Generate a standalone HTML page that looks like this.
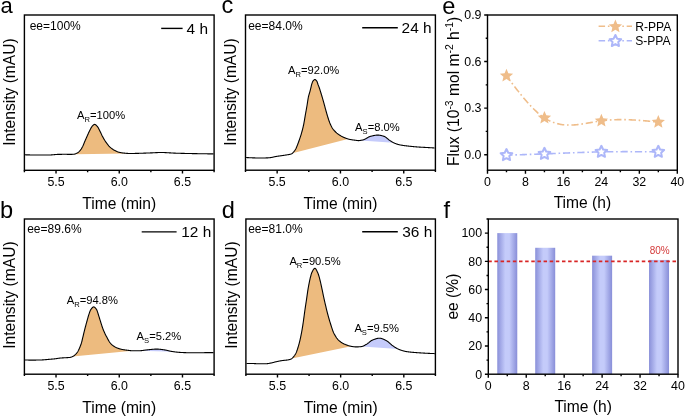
<!DOCTYPE html>
<html><head><meta charset="utf-8"><style>
html,body{margin:0;padding:0;background:#fff;width:685px;height:416px;overflow:hidden}
svg{display:block;will-change:transform}
text{font-family:"Liberation Sans", sans-serif}
</style></head><body>
<svg width="685" height="416" viewBox="0 0 685 416" font-family='"Liberation Sans", sans-serif'>
<rect width="685" height="416" fill="#fff"/>
<text x="56.02" y="185.9" font-size="12.4" text-anchor="middle" fill="#000" >5.5</text>
<text x="119.25" y="185.9" font-size="12.4" text-anchor="middle" fill="#000" >6.0</text>
<text x="182.48" y="185.9" font-size="12.4" text-anchor="middle" fill="#000" >6.5</text>
<path d="M24.4 170.3 V172.2 M56.02 170.3 V173.5 M87.63 170.3 V172.2 M119.25 170.3 V173.5 M150.87 170.3 V172.2 M182.48 170.3 V173.5 M214.1 170.3 V172.2" stroke="#000" stroke-width="1.4" fill="none"/>
<text x="119.25" y="209.1" font-size="15.6" text-anchor="middle" fill="#000" >Time (min)</text>
<text transform="translate(15.3 92.05) rotate(-90)" font-size="15.6" text-anchor="middle" fill="#000">Intensity (mAU)</text>
<path d="M74.25 154.17 L74.5 154.13 L74.75 154.07 L75 154 L75.25 153.91 L75.5 153.82 L75.75 153.72 L76 153.61 L76.25 153.5 L76.5 153.37 L76.75 153.25 L77 153.12 L77.25 152.98 L77.5 152.84 L77.75 152.69 L78 152.52 L78.25 152.33 L78.5 152.12 L78.75 151.9 L79 151.66 L79.25 151.42 L79.5 151.16 L79.75 150.89 L80 150.61 L80.25 150.33 L80.5 150.01 L80.75 149.68 L81 149.32 L81.25 148.95 L81.5 148.55 L81.75 148.14 L82 147.71 L82.25 147.26 L82.5 146.8 L82.75 146.31 L83 145.77 L83.25 145.2 L83.5 144.59 L83.75 143.98 L84 143.35 L84.25 142.72 L84.5 142.11 L84.75 141.52 L85 140.94 L85.25 140.37 L85.5 139.81 L85.75 139.25 L86 138.69 L86.25 138.13 L86.5 137.57 L86.75 137.01 L87 136.45 L87.25 135.89 L87.5 135.32 L87.75 134.74 L88 134.17 L88.25 133.6 L88.5 133.04 L88.75 132.5 L89 131.97 L89.25 131.45 L89.5 130.94 L89.75 130.44 L90 129.96 L90.25 129.49 L90.5 129.03 L90.75 128.56 L91 128.09 L91.25 127.64 L91.5 127.21 L91.75 126.82 L92 126.48 L92.25 126.2 L92.5 125.93 L92.75 125.67 L93 125.42 L93.25 125.18 L93.5 124.96 L93.75 124.77 L94 124.61 L94.25 124.49 L94.5 124.42 L94.75 124.4 L95 124.44 L95.25 124.53 L95.5 124.67 L95.75 124.84 L96 125.04 L96.25 125.27 L96.5 125.52 L96.75 125.78 L97 126.04 L97.25 126.3 L97.5 126.61 L97.75 126.97 L98 127.37 L98.25 127.81 L98.5 128.27 L98.75 128.74 L99 129.21 L99.25 129.68 L99.5 130.18 L99.75 130.7 L100 131.23 L100.25 131.76 L100.5 132.29 L100.75 132.81 L101 133.33 L101.25 133.86 L101.5 134.39 L101.75 134.91 L102 135.42 L102.25 135.93 L102.5 136.41 L102.75 136.88 L103 137.34 L103.25 137.79 L103.5 138.24 L103.75 138.67 L104 139.1 L104.25 139.52 L104.5 139.93 L104.75 140.33 L105 140.72 L105.25 141.11 L105.5 141.48 L105.75 141.85 L106 142.21 L106.25 142.56 L106.5 142.91 L106.75 143.25 L107 143.58 L107.25 143.91 L107.5 144.23 L107.75 144.55 L108 144.86 L108.25 145.18 L108.5 145.48 L108.75 145.78 L109 146.07 L109.25 146.34 L109.5 146.6 L109.75 146.85 L110 147.08 L110.25 147.3 L110.5 147.52 L110.75 147.73 L111 147.93 L111.25 148.13 L111.5 148.32 L111.75 148.51 L112 148.7 L112.25 148.88 L112.5 149.07 L112.75 149.25 L113 149.43 L113.25 149.6 L113.5 149.76 L113.75 149.92 L114 150.08 L114.25 150.22 L114.5 150.35 L114.75 150.48 L115 150.61 L115.25 150.74 L115.5 150.86 L115.75 150.99 L116 151.11 L116.25 151.23 L116.5 151.34 L116.75 151.45 L117 151.56 L117.25 151.66 L117.5 151.76 L117.75 151.86 L118 151.95 L118.25 152.03 L118.5 152.11 L118.75 152.18 L119 152.25 L119.25 152.31 L119.5 152.37 L119.75 152.43 L120 152.48 L120.25 152.53 L120.5 152.58 L120.75 152.63 L121 152.68 L121.25 152.72 L121.5 152.77 L121.75 152.81 L122 152.85 L122.25 152.89 L122.5 152.92 L122.75 152.96 L123 152.99 L123.25 153.02 L123.5 153.05 L123.75 153.07 L124 153.1 L124.25 153.12 L124.5 153.15 L124.75 153.17 L125 153.2 L125.25 153.22 L125.5 153.24 L125.75 153.27 L126 153.29 L126.25 153.31 L126.5 153.33 L126.75 153.35 L127 153.37 L127.25 153.39 L127.5 153.41 L127.75 153.42 L128 153.44 Z" fill="#EDBB7F" stroke="none"/>
<path d="M25 154.81 L25.25 154.82 L25.5 154.82 L25.75 154.83 L26 154.83 L26.25 154.84 L26.5 154.85 L26.75 154.85 L27 154.86 L27.25 154.87 L27.5 154.87 L27.75 154.88 L28 154.88 L28.25 154.89 L28.5 154.89 L28.75 154.9 L29 154.91 L29.25 154.91 L29.5 154.92 L29.75 154.92 L30 154.93 L30.25 154.93 L30.5 154.94 L30.75 154.94 L31 154.95 L31.25 154.95 L31.5 154.95 L31.75 154.96 L32 154.96 L32.25 154.97 L32.5 154.97 L32.75 154.97 L33 154.98 L33.25 154.98 L33.5 154.98 L33.75 154.99 L34 154.99 L34.25 154.99 L34.5 154.99 L34.75 154.99 L35 155 L35.25 155 L35.5 155 L35.75 155 L36 155 L36.25 155 L36.5 155 L36.75 155 L37 155 L37.25 155 L37.5 155 L37.75 155 L38 155 L38.25 155 L38.5 155 L38.75 155 L39 155 L39.25 155 L39.5 155 L39.75 155 L40 155 L40.25 155 L40.5 155 L40.75 155 L41 155 L41.25 155 L41.5 155 L41.75 155 L42 155 L42.25 155 L42.5 155 L42.75 155 L43 155 L43.25 155 L43.5 155 L43.75 155 L44 155 L44.25 155 L44.5 155 L44.75 155 L45 155 L45.25 155 L45.5 155 L45.75 155 L46 155 L46.25 155 L46.5 155 L46.75 155 L47 155 L47.25 155 L47.5 155 L47.75 155 L48 155 L48.25 155 L48.5 155 L48.75 155 L49 155 L49.25 155 L49.5 155 L49.75 154.99 L50 154.98 L50.25 154.97 L50.5 154.96 L50.75 154.95 L51 154.94 L51.25 154.92 L51.5 154.9 L51.75 154.88 L52 154.86 L52.25 154.84 L52.5 154.82 L52.75 154.8 L53 154.77 L53.25 154.75 L53.5 154.72 L53.75 154.7 L54 154.68 L54.25 154.65 L54.5 154.63 L54.75 154.6 L55 154.58 L55.25 154.56 L55.5 154.54 L55.75 154.52 L56 154.5 L56.25 154.48 L56.5 154.46 L56.75 154.45 L57 154.43 L57.25 154.42 L57.5 154.41 L57.75 154.4 L58 154.4 L58.25 154.39 L58.5 154.39 L58.75 154.38 L59 154.38 L59.25 154.37 L59.5 154.37 L59.75 154.36 L60 154.36 L60.25 154.35 L60.5 154.35 L60.75 154.34 L61 154.34 L61.25 154.34 L61.5 154.33 L61.75 154.33 L62 154.32 L62.25 154.32 L62.5 154.32 L62.75 154.32 L63 154.31 L63.25 154.31 L63.5 154.31 L63.75 154.31 L64 154.3 L64.25 154.3 L64.5 154.3 L64.75 154.3 L65 154.3 L65.25 154.3 L65.5 154.3 L65.75 154.3 L66 154.3 L66.25 154.31 L66.5 154.31 L66.75 154.32 L67 154.33 L67.25 154.34 L67.5 154.34 L67.75 154.35 L68 154.36 L68.25 154.37 L68.5 154.38 L68.75 154.38 L69 154.39 L69.25 154.39 L69.5 154.4 L69.75 154.4 L70 154.4 L70.25 154.4 L70.5 154.4 L70.75 154.39 L71 154.39 L71.25 154.38 L71.5 154.37 L71.75 154.36 L72 154.35 L72.25 154.33 L72.5 154.32 L72.75 154.3 L73 154.28 L73.25 154.26 L73.5 154.24 L73.75 154.22 L74 154.2 L74.25 154.17 L74.5 154.13 L74.75 154.07 L75 154 L75.25 153.91 L75.5 153.82 L75.75 153.72 L76 153.61 L76.25 153.5 L76.5 153.37 L76.75 153.25 L77 153.12 L77.25 152.98 L77.5 152.84 L77.75 152.69 L78 152.52 L78.25 152.33 L78.5 152.12 L78.75 151.9 L79 151.66 L79.25 151.42 L79.5 151.16 L79.75 150.89 L80 150.61 L80.25 150.33 L80.5 150.01 L80.75 149.68 L81 149.32 L81.25 148.95 L81.5 148.55 L81.75 148.14 L82 147.71 L82.25 147.26 L82.5 146.8 L82.75 146.31 L83 145.77 L83.25 145.2 L83.5 144.59 L83.75 143.98 L84 143.35 L84.25 142.72 L84.5 142.11 L84.75 141.52 L85 140.94 L85.25 140.37 L85.5 139.81 L85.75 139.25 L86 138.69 L86.25 138.13 L86.5 137.57 L86.75 137.01 L87 136.45 L87.25 135.89 L87.5 135.32 L87.75 134.74 L88 134.17 L88.25 133.6 L88.5 133.04 L88.75 132.5 L89 131.97 L89.25 131.45 L89.5 130.94 L89.75 130.44 L90 129.96 L90.25 129.49 L90.5 129.03 L90.75 128.56 L91 128.09 L91.25 127.64 L91.5 127.21 L91.75 126.82 L92 126.48 L92.25 126.2 L92.5 125.93 L92.75 125.67 L93 125.42 L93.25 125.18 L93.5 124.96 L93.75 124.77 L94 124.61 L94.25 124.49 L94.5 124.42 L94.75 124.4 L95 124.44 L95.25 124.53 L95.5 124.67 L95.75 124.84 L96 125.04 L96.25 125.27 L96.5 125.52 L96.75 125.78 L97 126.04 L97.25 126.3 L97.5 126.61 L97.75 126.97 L98 127.37 L98.25 127.81 L98.5 128.27 L98.75 128.74 L99 129.21 L99.25 129.68 L99.5 130.18 L99.75 130.7 L100 131.23 L100.25 131.76 L100.5 132.29 L100.75 132.81 L101 133.33 L101.25 133.86 L101.5 134.39 L101.75 134.91 L102 135.42 L102.25 135.93 L102.5 136.41 L102.75 136.88 L103 137.34 L103.25 137.79 L103.5 138.24 L103.75 138.67 L104 139.1 L104.25 139.52 L104.5 139.93 L104.75 140.33 L105 140.72 L105.25 141.11 L105.5 141.48 L105.75 141.85 L106 142.21 L106.25 142.56 L106.5 142.91 L106.75 143.25 L107 143.58 L107.25 143.91 L107.5 144.23 L107.75 144.55 L108 144.86 L108.25 145.18 L108.5 145.48 L108.75 145.78 L109 146.07 L109.25 146.34 L109.5 146.6 L109.75 146.85 L110 147.08 L110.25 147.3 L110.5 147.52 L110.75 147.73 L111 147.93 L111.25 148.13 L111.5 148.32 L111.75 148.51 L112 148.7 L112.25 148.88 L112.5 149.07 L112.75 149.25 L113 149.43 L113.25 149.6 L113.5 149.76 L113.75 149.92 L114 150.08 L114.25 150.22 L114.5 150.35 L114.75 150.48 L115 150.61 L115.25 150.74 L115.5 150.86 L115.75 150.99 L116 151.11 L116.25 151.23 L116.5 151.34 L116.75 151.45 L117 151.56 L117.25 151.66 L117.5 151.76 L117.75 151.86 L118 151.95 L118.25 152.03 L118.5 152.11 L118.75 152.18 L119 152.25 L119.25 152.31 L119.5 152.37 L119.75 152.43 L120 152.48 L120.25 152.53 L120.5 152.58 L120.75 152.63 L121 152.68 L121.25 152.72 L121.5 152.77 L121.75 152.81 L122 152.85 L122.25 152.89 L122.5 152.92 L122.75 152.96 L123 152.99 L123.25 153.02 L123.5 153.05 L123.75 153.07 L124 153.1 L124.25 153.12 L124.5 153.15 L124.75 153.17 L125 153.2 L125.25 153.22 L125.5 153.24 L125.75 153.27 L126 153.29 L126.25 153.31 L126.5 153.33 L126.75 153.35 L127 153.37 L127.25 153.39 L127.5 153.41 L127.75 153.42 L128 153.44 L128.25 153.45 L128.5 153.46 L128.75 153.48 L129 153.48 L129.25 153.49 L129.5 153.5 L129.75 153.5 L130 153.5 L130.25 153.5 L130.5 153.5 L130.75 153.5 L131 153.5 L131.25 153.49 L131.5 153.49 L131.75 153.49 L132 153.48 L132.25 153.48 L132.5 153.48 L132.75 153.47 L133 153.47 L133.25 153.46 L133.5 153.46 L133.75 153.45 L134 153.44 L134.25 153.44 L134.5 153.43 L134.75 153.43 L135 153.42 L135.25 153.42 L135.5 153.41 L135.75 153.41 L136 153.4 L136.25 153.39 L136.5 153.39 L136.75 153.38 L137 153.38 L137.25 153.37 L137.5 153.36 L137.75 153.36 L138 153.35 L138.25 153.34 L138.5 153.34 L138.75 153.33 L139 153.32 L139.25 153.32 L139.5 153.31 L139.75 153.3 L140 153.29 L140.25 153.29 L140.5 153.28 L140.75 153.27 L141 153.26 L141.25 153.25 L141.5 153.24 L141.75 153.24 L142 153.23 L142.25 153.22 L142.5 153.21 L142.75 153.2 L143 153.19 L143.25 153.18 L143.5 153.17 L143.75 153.17 L144 153.16 L144.25 153.15 L144.5 153.14 L144.75 153.13 L145 153.12 L145.25 153.11 L145.5 153.1 L145.75 153.09 L146 153.08 L146.25 153.07 L146.5 153.06 L146.75 153.05 L147 153.04 L147.25 153.03 L147.5 153.02 L147.75 153.01 L148 153 L148.25 153 L148.5 152.99 L148.75 152.98 L149 152.97 L149.25 152.96 L149.5 152.95 L149.75 152.94 L150 152.93 L150.25 152.92 L150.5 152.91 L150.75 152.9 L151 152.89 L151.25 152.88 L151.5 152.87 L151.75 152.86 L152 152.85 L152.25 152.84 L152.5 152.83 L152.75 152.82 L153 152.8 L153.25 152.79 L153.5 152.78 L153.75 152.76 L154 152.75 L154.25 152.74 L154.5 152.73 L154.75 152.71 L155 152.7 L155.25 152.69 L155.5 152.67 L155.75 152.66 L156 152.65 L156.25 152.64 L156.5 152.62 L156.75 152.61 L157 152.6 L157.25 152.59 L157.5 152.58 L157.75 152.57 L158 152.56 L158.25 152.55 L158.5 152.54 L158.75 152.54 L159 152.53 L159.25 152.52 L159.5 152.52 L159.75 152.51 L160 152.51 L160.25 152.5 L160.5 152.5 L160.75 152.5 L161 152.5 L161.25 152.5 L161.5 152.5 L161.75 152.5 L162 152.51 L162.25 152.51 L162.5 152.51 L162.75 152.52 L163 152.53 L163.25 152.53 L163.5 152.54 L163.75 152.55 L164 152.56 L164.25 152.56 L164.5 152.57 L164.75 152.58 L165 152.59 L165.25 152.61 L165.5 152.62 L165.75 152.63 L166 152.64 L166.25 152.65 L166.5 152.67 L166.75 152.68 L167 152.69 L167.25 152.71 L167.5 152.72 L167.75 152.74 L168 152.75 L168.25 152.77 L168.5 152.78 L168.75 152.8 L169 152.81 L169.25 152.83 L169.5 152.84 L169.75 152.86 L170 152.87 L170.25 152.89 L170.5 152.9 L170.75 152.92 L171 152.94 L171.25 152.95 L171.5 152.97 L171.75 152.98 L172 153 L172.25 153.01 L172.5 153.02 L172.75 153.04 L173 153.05 L173.25 153.07 L173.5 153.08 L173.75 153.09 L174 153.11 L174.25 153.12 L174.5 153.13 L174.75 153.14 L175 153.15 L175.25 153.16 L175.5 153.17 L175.75 153.18 L176 153.19 L176.25 153.2 L176.5 153.21 L176.75 153.21 L177 153.22 L177.25 153.23 L177.5 153.24 L177.75 153.24 L178 153.25 L178.25 153.26 L178.5 153.27 L178.75 153.27 L179 153.28 L179.25 153.29 L179.5 153.29 L179.75 153.3 L180 153.31 L180.25 153.32 L180.5 153.32 L180.75 153.33 L181 153.34 L181.25 153.34 L181.5 153.35 L181.75 153.35 L182 153.36 L182.25 153.37 L182.5 153.37 L182.75 153.38 L183 153.39 L183.25 153.39 L183.5 153.4 L183.75 153.4 L184 153.41 L184.25 153.42 L184.5 153.42 L184.75 153.43 L185 153.43 L185.25 153.44 L185.5 153.44 L185.75 153.45 L186 153.46 L186.25 153.46 L186.5 153.47 L186.75 153.47 L187 153.48 L187.25 153.48 L187.5 153.49 L187.75 153.49 L188 153.5 L188.25 153.5 L188.5 153.51 L188.75 153.51 L189 153.52 L189.25 153.52 L189.5 153.53 L189.75 153.53 L190 153.54 L190.25 153.54 L190.5 153.55 L190.75 153.55 L191 153.56 L191.25 153.56 L191.5 153.57 L191.75 153.57 L192 153.58 L192.25 153.58 L192.5 153.59 L192.75 153.59 L193 153.6 L193.25 153.6 L193.5 153.61 L193.75 153.61 L194 153.61 L194.25 153.62 L194.5 153.62 L194.75 153.63 L195 153.63 L195.25 153.64 L195.5 153.64 L195.75 153.65 L196 153.65 L196.25 153.65 L196.5 153.66 L196.75 153.66 L197 153.67 L197.25 153.67 L197.5 153.68 L197.75 153.68 L198 153.68 L198.25 153.69 L198.5 153.69 L198.75 153.7 L199 153.7 L199.25 153.71 L199.5 153.71 L199.75 153.71 L200 153.72 L200.25 153.72 L200.5 153.73 L200.75 153.73 L201 153.73 L201.25 153.74 L201.5 153.74 L201.75 153.75 L202 153.75 L202.25 153.75 L202.5 153.76 L202.75 153.76 L203 153.76 L203.25 153.77 L203.5 153.77 L203.75 153.78 L204 153.78 L204.25 153.78 L204.5 153.79 L204.75 153.79 L205 153.79 L205.25 153.8 L205.5 153.8 L205.75 153.8 L206 153.81 L206.25 153.81 L206.5 153.81 L206.75 153.82 L207 153.82 L207.25 153.82 L207.5 153.83 L207.75 153.83 L208 153.83 L208.25 153.84 L208.5 153.84 L208.75 153.84 L209 153.85 L209.25 153.85 L209.5 153.85 L209.75 153.86 L210 153.86 L210.25 153.86 L210.5 153.87 L210.75 153.87 L211 153.87 L211.25 153.87 L211.5 153.88 L211.75 153.88 L212 153.88 L212.25 153.88 L212.5 153.89 L212.75 153.89 L213 153.89 L213.25 153.89 L213.5 153.9" fill="none" stroke="#000" stroke-width="1.1" stroke-linejoin="round"/>
<rect x="24.4" y="15" width="189.7" height="155.3" fill="none" stroke="#000" stroke-width="1.4"/>
<text x="29.7" y="30.4" font-size="12" text-anchor="start" fill="#000" >ee=100%</text>
<path d="M161.2 28.4 H182.6" stroke="#000" stroke-width="1.4"/>
<text x="186.6" y="33.7" font-size="15.4" text-anchor="start" fill="#000" >4 h</text>
<text x="77" y="119.4" font-size="11.2" fill="#000">A<tspan font-size="7.6" dy="3">R</tspan><tspan dy="-3">=100%</tspan></text>
<text x="0.4" y="13.3" font-size="22.0" text-anchor="start" fill="#000" >a</text>
<text x="56.02" y="389.8" font-size="12.4" text-anchor="middle" fill="#000" >5.5</text>
<text x="119.25" y="389.8" font-size="12.4" text-anchor="middle" fill="#000" >6.0</text>
<text x="182.48" y="389.8" font-size="12.4" text-anchor="middle" fill="#000" >6.5</text>
<path d="M24.4 374.2 V376.1 M56.02 374.2 V377.4 M87.63 374.2 V376.1 M119.25 374.2 V377.4 M150.87 374.2 V376.1 M182.48 374.2 V377.4 M214.1 374.2 V376.1" stroke="#000" stroke-width="1.4" fill="none"/>
<text x="119.25" y="413" font-size="15.6" text-anchor="middle" fill="#000" >Time (min)</text>
<text transform="translate(15.3 295.1) rotate(-90)" font-size="15.6" text-anchor="middle" fill="#000">Intensity (mAU)</text>
<path d="M72.5 356.59 L72.75 356.48 L73 356.35 L73.25 356.21 L73.5 356.05 L73.75 355.88 L74 355.7 L74.25 355.5 L74.5 355.3 L74.75 355.09 L75 354.87 L75.25 354.64 L75.5 354.41 L75.75 354.16 L76 353.89 L76.25 353.61 L76.5 353.31 L76.75 353 L77 352.67 L77.25 352.32 L77.5 351.96 L77.75 351.58 L78 351.17 L78.25 350.73 L78.5 350.26 L78.75 349.75 L79 349.22 L79.25 348.67 L79.5 348.1 L79.75 347.52 L80 346.92 L80.25 346.3 L80.5 345.66 L80.75 344.98 L81 344.26 L81.25 343.51 L81.5 342.7 L81.75 341.8 L82 340.81 L82.25 339.75 L82.5 338.66 L82.75 337.61 L83 336.58 L83.25 335.54 L83.5 334.5 L83.75 333.46 L84 332.43 L84.25 331.4 L84.5 330.39 L84.75 329.39 L85 328.41 L85.25 327.45 L85.5 326.5 L85.75 325.56 L86 324.63 L86.25 323.7 L86.5 322.79 L86.75 321.88 L87 320.98 L87.25 320.09 L87.5 319.2 L87.75 318.31 L88 317.41 L88.25 316.52 L88.5 315.66 L88.75 314.85 L89 314.11 L89.25 313.36 L89.5 312.63 L89.75 311.91 L90 311.24 L90.25 310.63 L90.5 310.1 L90.75 309.67 L91 309.32 L91.25 308.97 L91.5 308.64 L91.75 308.32 L92 308.02 L92.25 307.74 L92.5 307.5 L92.75 307.29 L93 307.12 L93.25 306.99 L93.5 306.92 L93.75 306.9 L94 306.94 L94.25 307.03 L94.5 307.17 L94.75 307.35 L95 307.57 L95.25 307.82 L95.5 308.11 L95.75 308.42 L96 308.75 L96.25 309.1 L96.5 309.45 L96.75 309.85 L97 310.4 L97.25 311.07 L97.5 311.83 L97.75 312.64 L98 313.46 L98.25 314.25 L98.5 315.01 L98.75 315.8 L99 316.61 L99.25 317.43 L99.5 318.24 L99.75 319.04 L100 319.83 L100.25 320.63 L100.5 321.44 L100.75 322.25 L101 323.06 L101.25 323.86 L101.5 324.66 L101.75 325.45 L102 326.21 L102.25 326.96 L102.5 327.69 L102.75 328.38 L103 329.04 L103.25 329.68 L103.5 330.29 L103.75 330.88 L104 331.46 L104.25 332.03 L104.5 332.58 L104.75 333.12 L105 333.65 L105.25 334.16 L105.5 334.67 L105.75 335.17 L106 335.66 L106.25 336.14 L106.5 336.62 L106.75 337.09 L107 337.57 L107.25 338.04 L107.5 338.51 L107.75 338.98 L108 339.44 L108.25 339.89 L108.5 340.34 L108.75 340.77 L109 341.18 L109.25 341.58 L109.5 341.96 L109.75 342.32 L110 342.65 L110.25 342.96 L110.5 343.25 L110.75 343.54 L111 343.81 L111.25 344.07 L111.5 344.32 L111.75 344.57 L112 344.8 L112.25 345.02 L112.5 345.24 L112.75 345.44 L113 345.64 L113.25 345.82 L113.5 346 L113.75 346.17 L114 346.33 L114.25 346.49 L114.5 346.65 L114.75 346.8 L115 346.94 L115.25 347.08 L115.5 347.21 L115.75 347.34 L116 347.46 L116.25 347.58 L116.5 347.69 L116.75 347.8 L117 347.9 L117.25 348 L117.5 348.09 L117.75 348.19 L118 348.28 L118.25 348.37 L118.5 348.46 L118.75 348.54 L119 348.62 L119.25 348.71 L119.5 348.78 L119.75 348.86 L120 348.93 L120.25 349 L120.5 349.07 L120.75 349.13 L121 349.2 L121.25 349.26 L121.5 349.31 L121.75 349.37 L122 349.42 L122.25 349.47 L122.5 349.52 L122.75 349.57 L123 349.61 L123.25 349.66 L123.5 349.7 L123.75 349.74 L124 349.78 L124.25 349.82 L124.5 349.86 L124.75 349.9 L125 349.94 L125.25 349.97 L125.5 350.01 L125.75 350.04 L126 350.08 L126.25 350.11 L126.5 350.14 L126.75 350.17 L127 350.2 L127.25 350.23 L127.5 350.26 L127.75 350.29 L128 350.32 L128.25 350.36 L128.5 350.39 L128.75 350.42 L129 350.45 L129.25 350.49 L129.5 350.52 L129.75 350.55 L130 350.58 L130.25 350.6 L130.5 350.63 L130.75 350.65 L131 350.67 L131.25 350.68 L131.5 350.69 L131.75 350.7 L132 350.7 L132.25 350.7 L132.5 350.7 Z" fill="#EDBB7F" stroke="none"/>
<path d="M139.5 350.7 L139.75 350.7 L140 350.7 L140.25 350.69 L140.5 350.68 L140.75 350.67 L141 350.65 L141.25 350.63 L141.5 350.61 L141.75 350.59 L142 350.56 L142.25 350.53 L142.5 350.5 L142.75 350.46 L143 350.43 L143.25 350.39 L143.5 350.35 L143.75 350.32 L144 350.28 L144.25 350.24 L144.5 350.2 L144.75 350.16 L145 350.13 L145.25 350.09 L145.5 350.05 L145.75 350.02 L146 349.99 L146.25 349.96 L146.5 349.93 L146.75 349.9 L147 349.88 L147.25 349.86 L147.5 349.83 L147.75 349.81 L148 349.78 L148.25 349.75 L148.5 349.73 L148.75 349.7 L149 349.67 L149.25 349.64 L149.5 349.62 L149.75 349.59 L150 349.56 L150.25 349.54 L150.5 349.51 L150.75 349.48 L151 349.46 L151.25 349.43 L151.5 349.41 L151.75 349.38 L152 349.36 L152.25 349.33 L152.5 349.31 L152.75 349.29 L153 349.27 L153.25 349.25 L153.5 349.23 L153.75 349.21 L154 349.19 L154.25 349.18 L154.5 349.16 L154.75 349.15 L155 349.14 L155.25 349.13 L155.5 349.12 L155.75 349.11 L156 349.11 L156.25 349.1 L156.5 349.1 L156.75 349.1 L157 349.1 L157.25 349.11 L157.5 349.11 L157.75 349.12 L158 349.13 L158.25 349.15 L158.5 349.16 L158.75 349.18 L159 349.2 L159.25 349.22 L159.5 349.24 L159.75 349.27 L160 349.29 L160.25 349.32 L160.5 349.35 L160.75 349.38 L161 349.41 L161.25 349.44 L161.5 349.47 L161.75 349.5 L162 349.53 L162.25 349.57 L162.5 349.6 L162.75 349.64 L163 349.67 L163.25 349.71 L163.5 349.74 L163.75 349.78 L164 349.82 L164.25 349.85 L164.5 349.89 L164.75 349.92 L165 349.96 L165.25 350 L165.5 350.05 L165.75 350.1 L166 350.15 L166.25 350.2 L166.5 350.25 L166.75 350.31 L167 350.37 L167.25 350.43 L167.5 350.49 L167.75 350.55 L168 350.61 L168.25 350.67 L168.5 350.74 L168.75 350.8 L169 350.86 L169.25 350.92 L169.5 350.98 L169.75 351.04 L170 351.09 L170.25 351.15 L170.5 351.2 L170.75 351.25 L171 351.3 L171.25 351.34 L171.5 351.38 L171.75 351.42 L172 351.46 L172.25 351.5 L172.5 351.54 L172.75 351.58 L173 351.61 L173.25 351.65 L173.5 351.69 Z" fill="#C5CBFB" stroke="none"/>
<path d="M25 360.01 L25.25 360.02 L25.5 360.02 L25.75 360.03 L26 360.03 L26.25 360.04 L26.5 360.04 L26.75 360.05 L27 360.05 L27.25 360.06 L27.5 360.06 L27.75 360.06 L28 360.07 L28.25 360.07 L28.5 360.08 L28.75 360.08 L29 360.08 L29.25 360.08 L29.5 360.09 L29.75 360.09 L30 360.09 L30.25 360.09 L30.5 360.09 L30.75 360.1 L31 360.1 L31.25 360.1 L31.5 360.1 L31.75 360.1 L32 360.1 L32.25 360.1 L32.5 360.1 L32.75 360.1 L33 360.1 L33.25 360.1 L33.5 360.1 L33.75 360.1 L34 360.09 L34.25 360.09 L34.5 360.09 L34.75 360.09 L35 360.09 L35.25 360.08 L35.5 360.08 L35.75 360.08 L36 360.08 L36.25 360.07 L36.5 360.07 L36.75 360.07 L37 360.06 L37.25 360.06 L37.5 360.05 L37.75 360.05 L38 360.05 L38.25 360.04 L38.5 360.04 L38.75 360.03 L39 360.03 L39.25 360.02 L39.5 360.02 L39.75 360.01 L40 360.01 L40.25 360 L40.5 360 L40.75 359.99 L41 359.98 L41.25 359.97 L41.5 359.96 L41.75 359.95 L42 359.94 L42.25 359.92 L42.5 359.91 L42.75 359.89 L43 359.88 L43.25 359.86 L43.5 359.84 L43.75 359.82 L44 359.8 L44.25 359.78 L44.5 359.76 L44.75 359.74 L45 359.71 L45.25 359.69 L45.5 359.67 L45.75 359.65 L46 359.62 L46.25 359.6 L46.5 359.58 L46.75 359.55 L47 359.53 L47.25 359.51 L47.5 359.49 L47.75 359.46 L48 359.44 L48.25 359.42 L48.5 359.4 L48.75 359.38 L49 359.36 L49.25 359.34 L49.5 359.32 L49.75 359.3 L50 359.28 L50.25 359.26 L50.5 359.24 L50.75 359.21 L51 359.19 L51.25 359.17 L51.5 359.15 L51.75 359.13 L52 359.11 L52.25 359.08 L52.5 359.06 L52.75 359.04 L53 359.01 L53.25 358.99 L53.5 358.97 L53.75 358.94 L54 358.92 L54.25 358.89 L54.5 358.86 L54.75 358.84 L55 358.81 L55.25 358.78 L55.5 358.75 L55.75 358.72 L56 358.69 L56.25 358.65 L56.5 358.61 L56.75 358.57 L57 358.53 L57.25 358.49 L57.5 358.45 L57.75 358.41 L58 358.37 L58.25 358.33 L58.5 358.29 L58.75 358.25 L59 358.21 L59.25 358.18 L59.5 358.14 L59.75 358.11 L60 358.08 L60.25 358.05 L60.5 358.03 L60.75 358 L61 357.98 L61.25 357.97 L61.5 357.95 L61.75 357.93 L62 357.92 L62.25 357.9 L62.5 357.89 L62.75 357.87 L63 357.86 L63.25 357.85 L63.5 357.83 L63.75 357.82 L64 357.81 L64.25 357.8 L64.5 357.79 L64.75 357.77 L65 357.76 L65.25 357.75 L65.5 357.73 L65.75 357.72 L66 357.7 L66.25 357.68 L66.5 357.67 L66.75 357.65 L67 357.64 L67.25 357.63 L67.5 357.61 L67.75 357.6 L68 357.58 L68.25 357.56 L68.5 357.55 L68.75 357.53 L69 357.51 L69.25 357.48 L69.5 357.46 L69.75 357.43 L70 357.4 L70.25 357.36 L70.5 357.31 L70.75 357.25 L71 357.18 L71.25 357.1 L71.5 357.01 L71.75 356.91 L72 356.81 L72.25 356.7 L72.5 356.59 L72.75 356.48 L73 356.35 L73.25 356.21 L73.5 356.05 L73.75 355.88 L74 355.7 L74.25 355.5 L74.5 355.3 L74.75 355.09 L75 354.87 L75.25 354.64 L75.5 354.41 L75.75 354.16 L76 353.89 L76.25 353.61 L76.5 353.31 L76.75 353 L77 352.67 L77.25 352.32 L77.5 351.96 L77.75 351.58 L78 351.17 L78.25 350.73 L78.5 350.26 L78.75 349.75 L79 349.22 L79.25 348.67 L79.5 348.1 L79.75 347.52 L80 346.92 L80.25 346.3 L80.5 345.66 L80.75 344.98 L81 344.26 L81.25 343.51 L81.5 342.7 L81.75 341.8 L82 340.81 L82.25 339.75 L82.5 338.66 L82.75 337.61 L83 336.58 L83.25 335.54 L83.5 334.5 L83.75 333.46 L84 332.43 L84.25 331.4 L84.5 330.39 L84.75 329.39 L85 328.41 L85.25 327.45 L85.5 326.5 L85.75 325.56 L86 324.63 L86.25 323.7 L86.5 322.79 L86.75 321.88 L87 320.98 L87.25 320.09 L87.5 319.2 L87.75 318.31 L88 317.41 L88.25 316.52 L88.5 315.66 L88.75 314.85 L89 314.11 L89.25 313.36 L89.5 312.63 L89.75 311.91 L90 311.24 L90.25 310.63 L90.5 310.1 L90.75 309.67 L91 309.32 L91.25 308.97 L91.5 308.64 L91.75 308.32 L92 308.02 L92.25 307.74 L92.5 307.5 L92.75 307.29 L93 307.12 L93.25 306.99 L93.5 306.92 L93.75 306.9 L94 306.94 L94.25 307.03 L94.5 307.17 L94.75 307.35 L95 307.57 L95.25 307.82 L95.5 308.11 L95.75 308.42 L96 308.75 L96.25 309.1 L96.5 309.45 L96.75 309.85 L97 310.4 L97.25 311.07 L97.5 311.83 L97.75 312.64 L98 313.46 L98.25 314.25 L98.5 315.01 L98.75 315.8 L99 316.61 L99.25 317.43 L99.5 318.24 L99.75 319.04 L100 319.83 L100.25 320.63 L100.5 321.44 L100.75 322.25 L101 323.06 L101.25 323.86 L101.5 324.66 L101.75 325.45 L102 326.21 L102.25 326.96 L102.5 327.69 L102.75 328.38 L103 329.04 L103.25 329.68 L103.5 330.29 L103.75 330.88 L104 331.46 L104.25 332.03 L104.5 332.58 L104.75 333.12 L105 333.65 L105.25 334.16 L105.5 334.67 L105.75 335.17 L106 335.66 L106.25 336.14 L106.5 336.62 L106.75 337.09 L107 337.57 L107.25 338.04 L107.5 338.51 L107.75 338.98 L108 339.44 L108.25 339.89 L108.5 340.34 L108.75 340.77 L109 341.18 L109.25 341.58 L109.5 341.96 L109.75 342.32 L110 342.65 L110.25 342.96 L110.5 343.25 L110.75 343.54 L111 343.81 L111.25 344.07 L111.5 344.32 L111.75 344.57 L112 344.8 L112.25 345.02 L112.5 345.24 L112.75 345.44 L113 345.64 L113.25 345.82 L113.5 346 L113.75 346.17 L114 346.33 L114.25 346.49 L114.5 346.65 L114.75 346.8 L115 346.94 L115.25 347.08 L115.5 347.21 L115.75 347.34 L116 347.46 L116.25 347.58 L116.5 347.69 L116.75 347.8 L117 347.9 L117.25 348 L117.5 348.09 L117.75 348.19 L118 348.28 L118.25 348.37 L118.5 348.46 L118.75 348.54 L119 348.62 L119.25 348.71 L119.5 348.78 L119.75 348.86 L120 348.93 L120.25 349 L120.5 349.07 L120.75 349.13 L121 349.2 L121.25 349.26 L121.5 349.31 L121.75 349.37 L122 349.42 L122.25 349.47 L122.5 349.52 L122.75 349.57 L123 349.61 L123.25 349.66 L123.5 349.7 L123.75 349.74 L124 349.78 L124.25 349.82 L124.5 349.86 L124.75 349.9 L125 349.94 L125.25 349.97 L125.5 350.01 L125.75 350.04 L126 350.08 L126.25 350.11 L126.5 350.14 L126.75 350.17 L127 350.2 L127.25 350.23 L127.5 350.26 L127.75 350.29 L128 350.32 L128.25 350.36 L128.5 350.39 L128.75 350.42 L129 350.45 L129.25 350.49 L129.5 350.52 L129.75 350.55 L130 350.58 L130.25 350.6 L130.5 350.63 L130.75 350.65 L131 350.67 L131.25 350.68 L131.5 350.69 L131.75 350.7 L132 350.7 L132.25 350.7 L132.5 350.7 L132.75 350.7 L133 350.7 L133.25 350.7 L133.5 350.7 L133.75 350.7 L134 350.7 L134.25 350.7 L134.5 350.7 L134.75 350.7 L135 350.7 L135.25 350.7 L135.5 350.7 L135.75 350.7 L136 350.7 L136.25 350.7 L136.5 350.7 L136.75 350.7 L137 350.7 L137.25 350.7 L137.5 350.7 L137.75 350.7 L138 350.7 L138.25 350.7 L138.5 350.7 L138.75 350.7 L139 350.7 L139.25 350.7 L139.5 350.7 L139.75 350.7 L140 350.7 L140.25 350.69 L140.5 350.68 L140.75 350.67 L141 350.65 L141.25 350.63 L141.5 350.61 L141.75 350.59 L142 350.56 L142.25 350.53 L142.5 350.5 L142.75 350.46 L143 350.43 L143.25 350.39 L143.5 350.35 L143.75 350.32 L144 350.28 L144.25 350.24 L144.5 350.2 L144.75 350.16 L145 350.13 L145.25 350.09 L145.5 350.05 L145.75 350.02 L146 349.99 L146.25 349.96 L146.5 349.93 L146.75 349.9 L147 349.88 L147.25 349.86 L147.5 349.83 L147.75 349.81 L148 349.78 L148.25 349.75 L148.5 349.73 L148.75 349.7 L149 349.67 L149.25 349.64 L149.5 349.62 L149.75 349.59 L150 349.56 L150.25 349.54 L150.5 349.51 L150.75 349.48 L151 349.46 L151.25 349.43 L151.5 349.41 L151.75 349.38 L152 349.36 L152.25 349.33 L152.5 349.31 L152.75 349.29 L153 349.27 L153.25 349.25 L153.5 349.23 L153.75 349.21 L154 349.19 L154.25 349.18 L154.5 349.16 L154.75 349.15 L155 349.14 L155.25 349.13 L155.5 349.12 L155.75 349.11 L156 349.11 L156.25 349.1 L156.5 349.1 L156.75 349.1 L157 349.1 L157.25 349.11 L157.5 349.11 L157.75 349.12 L158 349.13 L158.25 349.15 L158.5 349.16 L158.75 349.18 L159 349.2 L159.25 349.22 L159.5 349.24 L159.75 349.27 L160 349.29 L160.25 349.32 L160.5 349.35 L160.75 349.38 L161 349.41 L161.25 349.44 L161.5 349.47 L161.75 349.5 L162 349.53 L162.25 349.57 L162.5 349.6 L162.75 349.64 L163 349.67 L163.25 349.71 L163.5 349.74 L163.75 349.78 L164 349.82 L164.25 349.85 L164.5 349.89 L164.75 349.92 L165 349.96 L165.25 350 L165.5 350.05 L165.75 350.1 L166 350.15 L166.25 350.2 L166.5 350.25 L166.75 350.31 L167 350.37 L167.25 350.43 L167.5 350.49 L167.75 350.55 L168 350.61 L168.25 350.67 L168.5 350.74 L168.75 350.8 L169 350.86 L169.25 350.92 L169.5 350.98 L169.75 351.04 L170 351.09 L170.25 351.15 L170.5 351.2 L170.75 351.25 L171 351.3 L171.25 351.34 L171.5 351.38 L171.75 351.42 L172 351.46 L172.25 351.5 L172.5 351.54 L172.75 351.58 L173 351.61 L173.25 351.65 L173.5 351.69 L173.75 351.72 L174 351.76 L174.25 351.79 L174.5 351.83 L174.75 351.86 L175 351.9 L175.25 351.93 L175.5 351.96 L175.75 352 L176 352.03 L176.25 352.06 L176.5 352.09 L176.75 352.12 L177 352.14 L177.25 352.17 L177.5 352.2 L177.75 352.22 L178 352.25 L178.25 352.27 L178.5 352.29 L178.75 352.31 L179 352.33 L179.25 352.35 L179.5 352.37 L179.75 352.39 L180 352.4 L180.25 352.41 L180.5 352.43 L180.75 352.44 L181 352.46 L181.25 352.47 L181.5 352.48 L181.75 352.5 L182 352.51 L182.25 352.52 L182.5 352.54 L182.75 352.55 L183 352.56 L183.25 352.57 L183.5 352.58 L183.75 352.6 L184 352.61 L184.25 352.62 L184.5 352.63 L184.75 352.64 L185 352.65 L185.25 352.65 L185.5 352.66 L185.75 352.67 L186 352.67 L186.25 352.68 L186.5 352.69 L186.75 352.69 L187 352.69 L187.25 352.7 L187.5 352.7 L187.75 352.7 L188 352.7 L188.25 352.7 L188.5 352.7 L188.75 352.7 L189 352.7 L189.25 352.7 L189.5 352.7 L189.75 352.7 L190 352.7 L190.25 352.7 L190.5 352.7 L190.75 352.7 L191 352.7 L191.25 352.7 L191.5 352.7 L191.75 352.7 L192 352.7 L192.25 352.7 L192.5 352.7 L192.75 352.7 L193 352.7 L193.25 352.7 L193.5 352.7 L193.75 352.7 L194 352.7 L194.25 352.7 L194.5 352.7 L194.75 352.7 L195 352.7 L195.25 352.7 L195.5 352.7 L195.75 352.7 L196 352.7 L196.25 352.7 L196.5 352.7 L196.75 352.7 L197 352.7 L197.25 352.7 L197.5 352.7 L197.75 352.69 L198 352.69 L198.25 352.69 L198.5 352.69 L198.75 352.69 L199 352.69 L199.25 352.69 L199.5 352.69 L199.75 352.69 L200 352.69 L200.25 352.69 L200.5 352.69 L200.75 352.69 L201 352.69 L201.25 352.69 L201.5 352.69 L201.75 352.68 L202 352.68 L202.25 352.68 L202.5 352.68 L202.75 352.68 L203 352.68 L203.25 352.68 L203.5 352.68 L203.75 352.68 L204 352.68 L204.25 352.68 L204.5 352.67 L204.75 352.67 L205 352.67 L205.25 352.67 L205.5 352.67 L205.75 352.67 L206 352.67 L206.25 352.66 L206.5 352.66 L206.75 352.66 L207 352.66 L207.25 352.66 L207.5 352.66 L207.75 352.66 L208 352.65 L208.25 352.65 L208.5 352.65 L208.75 352.65 L209 352.65 L209.25 352.64 L209.5 352.64 L209.75 352.64 L210 352.64 L210.25 352.64 L210.5 352.63 L210.75 352.63 L211 352.63 L211.25 352.63 L211.5 352.62 L211.75 352.62 L212 352.62 L212.25 352.62 L212.5 352.61 L212.75 352.61 L213 352.61 L213.25 352.61 L213.5 352.6" fill="none" stroke="#000" stroke-width="1.1" stroke-linejoin="round"/>
<rect x="24.4" y="219" width="189.7" height="155.2" fill="none" stroke="#000" stroke-width="1.4"/>
<text x="27.2" y="233.3" font-size="12" text-anchor="start" fill="#000" >ee=89.6%</text>
<path d="M141.7 231.9 H176.6" stroke="#000" stroke-width="1.4"/>
<text x="181.3" y="236.9" font-size="15.4" text-anchor="start" fill="#000" >12 h</text>
<text x="66.7" y="304.4" font-size="11.2" fill="#000">A<tspan font-size="7.6" dy="3">R</tspan><tspan dy="-3">=94.8%</tspan></text>
<text x="136.6" y="339.9" font-size="11.2" fill="#000">A<tspan font-size="7.6" dy="3">S</tspan><tspan dy="-3">=5.2%</tspan></text>
<text x="0.1" y="218" font-size="23.6" text-anchor="start" fill="#000" >b</text>
<text x="277.15" y="185.8" font-size="12.4" text-anchor="middle" fill="#000" >5.5</text>
<text x="340.45" y="185.8" font-size="12.4" text-anchor="middle" fill="#000" >6.0</text>
<text x="403.75" y="185.8" font-size="12.4" text-anchor="middle" fill="#000" >6.5</text>
<path d="M245.5 170.2 V172.1 M277.15 170.2 V173.4 M308.8 170.2 V172.1 M340.45 170.2 V173.4 M372.1 170.2 V172.1 M403.75 170.2 V173.4 M435.4 170.2 V172.1" stroke="#000" stroke-width="1.4" fill="none"/>
<text x="340.45" y="209" font-size="15.6" text-anchor="middle" fill="#000" >Time (min)</text>
<text transform="translate(236.4 92) rotate(-90)" font-size="15.6" text-anchor="middle" fill="#000">Intensity (mAU)</text>
<path d="M292.35 153.27 L292.6 153.03 L292.85 152.78 L293.1 152.52 L293.35 152.25 L293.6 151.98 L293.85 151.7 L294.1 151.39 L294.35 151.06 L294.6 150.72 L294.85 150.35 L295.1 149.97 L295.35 149.57 L295.6 149.15 L295.85 148.71 L296.1 148.23 L296.35 147.69 L296.6 147.12 L296.85 146.52 L297.1 145.89 L297.35 145.26 L297.6 144.61 L297.85 143.97 L298.1 143.32 L298.35 142.65 L298.6 141.97 L298.85 141.27 L299.1 140.55 L299.35 139.83 L299.6 139.11 L299.85 138.38 L300.1 137.65 L300.35 136.91 L300.6 136.14 L300.85 135.36 L301.1 134.54 L301.35 133.69 L301.6 132.82 L301.85 131.93 L302.1 131.01 L302.35 130.07 L302.6 129.1 L302.85 128.09 L303.1 127.04 L303.35 125.94 L303.6 124.8 L303.85 123.57 L304.1 122.22 L304.35 120.79 L304.6 119.32 L304.85 117.83 L305.1 116.35 L305.35 114.92 L305.6 113.52 L305.85 112.12 L306.1 110.73 L306.35 109.33 L306.6 107.92 L306.85 106.48 L307.1 105 L307.35 103.39 L307.6 101.73 L307.85 100.09 L308.1 98.56 L308.35 97.23 L308.6 96.14 L308.85 95.18 L309.1 94.32 L309.35 93.49 L309.6 92.66 L309.85 91.79 L310.1 90.85 L310.35 89.89 L310.6 88.9 L310.85 87.89 L311.1 86.78 L311.35 85.67 L311.6 84.7 L311.85 83.87 L312.1 83.07 L312.35 82.34 L312.6 81.73 L312.85 81.27 L313.1 80.94 L313.35 80.62 L313.6 80.32 L313.85 80.06 L314.1 79.84 L314.35 79.67 L314.6 79.55 L314.85 79.5 L315.1 79.53 L315.35 79.63 L315.6 79.8 L315.85 80.02 L316.1 80.29 L316.35 80.6 L316.6 80.93 L316.85 81.27 L317.1 81.78 L317.35 82.45 L317.6 83.21 L317.85 83.98 L318.1 84.7 L318.35 85.35 L318.6 85.98 L318.85 86.62 L319.1 87.27 L319.35 87.96 L319.6 88.69 L319.85 89.48 L320.1 90.29 L320.35 91.11 L320.6 91.92 L320.85 92.73 L321.1 93.53 L321.35 94.35 L321.6 95.17 L321.85 96 L322.1 96.84 L322.35 97.69 L322.6 98.55 L322.85 99.42 L323.1 100.3 L323.35 101.18 L323.6 102.07 L323.85 102.96 L324.1 103.86 L324.35 104.78 L324.6 105.71 L324.85 106.65 L325.1 107.59 L325.35 108.53 L325.6 109.45 L325.85 110.36 L326.1 111.25 L326.35 112.14 L326.6 113.02 L326.85 113.89 L327.1 114.75 L327.35 115.6 L327.6 116.43 L327.85 117.23 L328.1 118.01 L328.35 118.78 L328.6 119.55 L328.85 120.3 L329.1 121.03 L329.35 121.74 L329.6 122.41 L329.85 123.04 L330.1 123.63 L330.35 124.2 L330.6 124.76 L330.85 125.3 L331.1 125.83 L331.35 126.33 L331.6 126.82 L331.85 127.28 L332.1 127.72 L332.35 128.13 L332.6 128.52 L332.85 128.87 L333.1 129.2 L333.35 129.53 L333.6 129.84 L333.85 130.14 L334.1 130.44 L334.35 130.72 L334.6 130.99 L334.85 131.26 L335.1 131.51 L335.35 131.76 L335.6 132 L335.85 132.24 L336.1 132.46 L336.35 132.68 L336.6 132.9 L336.85 133.11 L337.1 133.31 L337.35 133.51 L337.6 133.7 L337.85 133.89 L338.1 134.07 L338.35 134.26 L338.6 134.44 L338.85 134.61 L339.1 134.78 L339.35 134.95 L339.6 135.12 L339.85 135.28 L340.1 135.44 L340.35 135.59 L340.6 135.74 L340.85 135.89 L341.1 136.04 L341.35 136.18 L341.6 136.32 L341.85 136.45 L342.1 136.58 L342.35 136.71 L342.6 136.84 L342.85 136.96 L343.1 137.07 L343.35 137.19 L343.6 137.3 L343.85 137.41 L344.1 137.52 L344.35 137.62 L344.6 137.73 L344.85 137.83 L345.1 137.93 L345.35 138.03 L345.6 138.13 L345.85 138.23 L346.1 138.32 L346.35 138.42 L346.6 138.51 L346.85 138.59 L347.1 138.68 L347.35 138.76 L347.6 138.84 L347.85 138.92 Z" fill="#EDBB7F" stroke="none"/>
<path d="M360.6 140.39 L360.85 140.35 L361.1 140.3 L361.35 140.26 L361.6 140.2 L361.85 140.15 L362.1 140.1 L362.35 140.04 L362.6 139.99 L362.85 139.93 L363.1 139.88 L363.35 139.81 L363.6 139.73 L363.85 139.65 L364.1 139.55 L364.35 139.45 L364.6 139.33 L364.85 139.21 L365.1 139.09 L365.35 138.96 L365.6 138.82 L365.85 138.68 L366.1 138.54 L366.35 138.39 L366.6 138.24 L366.85 138.09 L367.1 137.95 L367.35 137.8 L367.6 137.65 L367.85 137.51 L368.1 137.37 L368.35 137.23 L368.6 137.1 L368.85 136.97 L369.1 136.85 L369.35 136.74 L369.6 136.63 L369.85 136.53 L370.1 136.45 L370.35 136.37 L370.6 136.3 L370.85 136.24 L371.1 136.18 L371.35 136.12 L371.6 136.05 L371.85 135.99 L372.1 135.93 L372.35 135.88 L372.6 135.82 L372.85 135.76 L373.1 135.7 L373.35 135.65 L373.6 135.6 L373.85 135.55 L374.1 135.5 L374.35 135.45 L374.6 135.41 L374.85 135.36 L375.1 135.32 L375.35 135.29 L375.6 135.25 L375.85 135.22 L376.1 135.19 L376.35 135.17 L376.6 135.15 L376.85 135.13 L377.1 135.12 L377.35 135.11 L377.6 135.1 L377.85 135.1 L378.1 135.1 L378.35 135.11 L378.6 135.13 L378.85 135.15 L379.1 135.17 L379.35 135.2 L379.6 135.24 L379.85 135.27 L380.1 135.32 L380.35 135.36 L380.6 135.41 L380.85 135.47 L381.1 135.52 L381.35 135.58 L381.6 135.64 L381.85 135.71 L382.1 135.77 L382.35 135.84 L382.6 135.91 L382.85 135.98 L383.1 136.06 L383.35 136.13 L383.6 136.21 L383.85 136.28 L384.1 136.37 L384.35 136.47 L384.6 136.58 L384.85 136.71 L385.1 136.85 L385.35 137 L385.6 137.17 L385.85 137.34 L386.1 137.52 L386.35 137.71 L386.6 137.91 L386.85 138.11 L387.1 138.32 L387.35 138.53 L387.6 138.73 L387.85 138.94 L388.1 139.15 L388.35 139.36 L388.6 139.57 L388.85 139.77 L389.1 139.96 L389.35 140.15 L389.6 140.33 L389.85 140.5 L390.1 140.66 L390.35 140.83 L390.6 140.99 L390.85 141.15 L391.1 141.31 L391.35 141.47 L391.6 141.63 L391.85 141.78 L392.1 141.94 L392.35 142.08 L392.6 142.23 L392.85 142.37 L393.1 142.5 L393.35 142.63 L393.6 142.75 Z" fill="#C5CBFB" stroke="none"/>
<path d="M246.1 157.52 L246.35 157.53 L246.6 157.55 L246.85 157.56 L247.1 157.58 L247.35 157.59 L247.6 157.61 L247.85 157.62 L248.1 157.64 L248.35 157.65 L248.6 157.66 L248.85 157.68 L249.1 157.69 L249.35 157.7 L249.6 157.72 L249.85 157.73 L250.1 157.74 L250.35 157.75 L250.6 157.76 L250.85 157.77 L251.1 157.78 L251.35 157.79 L251.6 157.8 L251.85 157.81 L252.1 157.82 L252.35 157.83 L252.6 157.84 L252.85 157.85 L253.1 157.85 L253.35 157.86 L253.6 157.87 L253.85 157.88 L254.1 157.89 L254.35 157.9 L254.6 157.91 L254.85 157.92 L255.1 157.92 L255.35 157.93 L255.6 157.94 L255.85 157.95 L256.1 157.95 L256.35 157.96 L256.6 157.97 L256.85 157.97 L257.1 157.98 L257.35 157.98 L257.6 157.99 L257.85 157.99 L258.1 157.99 L258.35 158 L258.6 158 L258.85 158 L259.1 158 L259.35 158 L259.6 158 L259.85 158 L260.1 158 L260.35 158 L260.6 158 L260.85 157.99 L261.1 157.99 L261.35 157.99 L261.6 157.99 L261.85 157.99 L262.1 157.98 L262.35 157.98 L262.6 157.98 L262.85 157.98 L263.1 157.97 L263.35 157.97 L263.6 157.96 L263.85 157.96 L264.1 157.96 L264.35 157.95 L264.6 157.95 L264.85 157.94 L265.1 157.94 L265.35 157.93 L265.6 157.93 L265.85 157.92 L266.1 157.92 L266.35 157.91 L266.6 157.9 L266.85 157.9 L267.1 157.89 L267.35 157.88 L267.6 157.87 L267.85 157.85 L268.1 157.84 L268.35 157.82 L268.6 157.8 L268.85 157.78 L269.1 157.76 L269.35 157.73 L269.6 157.71 L269.85 157.68 L270.1 157.65 L270.35 157.63 L270.6 157.6 L270.85 157.57 L271.1 157.53 L271.35 157.49 L271.6 157.45 L271.85 157.4 L272.1 157.35 L272.35 157.3 L272.6 157.24 L272.85 157.19 L273.1 157.13 L273.35 157.07 L273.6 157.01 L273.85 156.95 L274.1 156.89 L274.35 156.83 L274.6 156.77 L274.85 156.71 L275.1 156.66 L275.35 156.6 L275.6 156.55 L275.85 156.51 L276.1 156.47 L276.35 156.42 L276.6 156.38 L276.85 156.34 L277.1 156.3 L277.35 156.26 L277.6 156.23 L277.85 156.19 L278.1 156.15 L278.35 156.12 L278.6 156.08 L278.85 156.05 L279.1 156.01 L279.35 155.97 L279.6 155.94 L279.85 155.91 L280.1 155.87 L280.35 155.84 L280.6 155.8 L280.85 155.77 L281.1 155.73 L281.35 155.69 L281.6 155.66 L281.85 155.62 L282.1 155.59 L282.35 155.55 L282.6 155.51 L282.85 155.48 L283.1 155.44 L283.35 155.41 L283.6 155.37 L283.85 155.34 L284.1 155.3 L284.35 155.27 L284.6 155.23 L284.85 155.19 L285.1 155.16 L285.35 155.12 L285.6 155.08 L285.85 155.04 L286.1 155 L286.35 154.96 L286.6 154.92 L286.85 154.87 L287.1 154.83 L287.35 154.79 L287.6 154.75 L287.85 154.71 L288.1 154.67 L288.35 154.63 L288.6 154.59 L288.85 154.55 L289.1 154.51 L289.35 154.46 L289.6 154.41 L289.85 154.35 L290.1 154.29 L290.35 154.23 L290.6 154.16 L290.85 154.09 L291.1 154.01 L291.35 153.92 L291.6 153.81 L291.85 153.66 L292.1 153.48 L292.35 153.27 L292.6 153.03 L292.85 152.78 L293.1 152.52 L293.35 152.25 L293.6 151.98 L293.85 151.7 L294.1 151.39 L294.35 151.06 L294.6 150.72 L294.85 150.35 L295.1 149.97 L295.35 149.57 L295.6 149.15 L295.85 148.71 L296.1 148.23 L296.35 147.69 L296.6 147.12 L296.85 146.52 L297.1 145.89 L297.35 145.26 L297.6 144.61 L297.85 143.97 L298.1 143.32 L298.35 142.65 L298.6 141.97 L298.85 141.27 L299.1 140.55 L299.35 139.83 L299.6 139.11 L299.85 138.38 L300.1 137.65 L300.35 136.91 L300.6 136.14 L300.85 135.36 L301.1 134.54 L301.35 133.69 L301.6 132.82 L301.85 131.93 L302.1 131.01 L302.35 130.07 L302.6 129.1 L302.85 128.09 L303.1 127.04 L303.35 125.94 L303.6 124.8 L303.85 123.57 L304.1 122.22 L304.35 120.79 L304.6 119.32 L304.85 117.83 L305.1 116.35 L305.35 114.92 L305.6 113.52 L305.85 112.12 L306.1 110.73 L306.35 109.33 L306.6 107.92 L306.85 106.48 L307.1 105 L307.35 103.39 L307.6 101.73 L307.85 100.09 L308.1 98.56 L308.35 97.23 L308.6 96.14 L308.85 95.18 L309.1 94.32 L309.35 93.49 L309.6 92.66 L309.85 91.79 L310.1 90.85 L310.35 89.89 L310.6 88.9 L310.85 87.89 L311.1 86.78 L311.35 85.67 L311.6 84.7 L311.85 83.87 L312.1 83.07 L312.35 82.34 L312.6 81.73 L312.85 81.27 L313.1 80.94 L313.35 80.62 L313.6 80.32 L313.85 80.06 L314.1 79.84 L314.35 79.67 L314.6 79.55 L314.85 79.5 L315.1 79.53 L315.35 79.63 L315.6 79.8 L315.85 80.02 L316.1 80.29 L316.35 80.6 L316.6 80.93 L316.85 81.27 L317.1 81.78 L317.35 82.45 L317.6 83.21 L317.85 83.98 L318.1 84.7 L318.35 85.35 L318.6 85.98 L318.85 86.62 L319.1 87.27 L319.35 87.96 L319.6 88.69 L319.85 89.48 L320.1 90.29 L320.35 91.11 L320.6 91.92 L320.85 92.73 L321.1 93.53 L321.35 94.35 L321.6 95.17 L321.85 96 L322.1 96.84 L322.35 97.69 L322.6 98.55 L322.85 99.42 L323.1 100.3 L323.35 101.18 L323.6 102.07 L323.85 102.96 L324.1 103.86 L324.35 104.78 L324.6 105.71 L324.85 106.65 L325.1 107.59 L325.35 108.53 L325.6 109.45 L325.85 110.36 L326.1 111.25 L326.35 112.14 L326.6 113.02 L326.85 113.89 L327.1 114.75 L327.35 115.6 L327.6 116.43 L327.85 117.23 L328.1 118.01 L328.35 118.78 L328.6 119.55 L328.85 120.3 L329.1 121.03 L329.35 121.74 L329.6 122.41 L329.85 123.04 L330.1 123.63 L330.35 124.2 L330.6 124.76 L330.85 125.3 L331.1 125.83 L331.35 126.33 L331.6 126.82 L331.85 127.28 L332.1 127.72 L332.35 128.13 L332.6 128.52 L332.85 128.87 L333.1 129.2 L333.35 129.53 L333.6 129.84 L333.85 130.14 L334.1 130.44 L334.35 130.72 L334.6 130.99 L334.85 131.26 L335.1 131.51 L335.35 131.76 L335.6 132 L335.85 132.24 L336.1 132.46 L336.35 132.68 L336.6 132.9 L336.85 133.11 L337.1 133.31 L337.35 133.51 L337.6 133.7 L337.85 133.89 L338.1 134.07 L338.35 134.26 L338.6 134.44 L338.85 134.61 L339.1 134.78 L339.35 134.95 L339.6 135.12 L339.85 135.28 L340.1 135.44 L340.35 135.59 L340.6 135.74 L340.85 135.89 L341.1 136.04 L341.35 136.18 L341.6 136.32 L341.85 136.45 L342.1 136.58 L342.35 136.71 L342.6 136.84 L342.85 136.96 L343.1 137.07 L343.35 137.19 L343.6 137.3 L343.85 137.41 L344.1 137.52 L344.35 137.62 L344.6 137.73 L344.85 137.83 L345.1 137.93 L345.35 138.03 L345.6 138.13 L345.85 138.23 L346.1 138.32 L346.35 138.42 L346.6 138.51 L346.85 138.59 L347.1 138.68 L347.35 138.76 L347.6 138.84 L347.85 138.92 L348.1 139 L348.35 139.07 L348.6 139.14 L348.85 139.2 L349.1 139.26 L349.35 139.32 L349.6 139.38 L349.85 139.43 L350.1 139.48 L350.35 139.53 L350.6 139.58 L350.85 139.62 L351.1 139.66 L351.35 139.71 L351.6 139.75 L351.85 139.79 L352.1 139.82 L352.35 139.86 L352.6 139.9 L352.85 139.93 L353.1 139.97 L353.35 140 L353.6 140.03 L353.85 140.07 L354.1 140.1 L354.35 140.13 L354.6 140.16 L354.85 140.19 L355.1 140.23 L355.35 140.26 L355.6 140.29 L355.85 140.32 L356.1 140.35 L356.35 140.39 L356.6 140.43 L356.85 140.46 L357.1 140.5 L357.35 140.53 L357.6 140.56 L357.85 140.58 L358.1 140.59 L358.35 140.6 L358.6 140.6 L358.85 140.59 L359.1 140.58 L359.35 140.56 L359.6 140.53 L359.85 140.5 L360.1 140.47 L360.35 140.43 L360.6 140.39 L360.85 140.35 L361.1 140.3 L361.35 140.26 L361.6 140.2 L361.85 140.15 L362.1 140.1 L362.35 140.04 L362.6 139.99 L362.85 139.93 L363.1 139.88 L363.35 139.81 L363.6 139.73 L363.85 139.65 L364.1 139.55 L364.35 139.45 L364.6 139.33 L364.85 139.21 L365.1 139.09 L365.35 138.96 L365.6 138.82 L365.85 138.68 L366.1 138.54 L366.35 138.39 L366.6 138.24 L366.85 138.09 L367.1 137.95 L367.35 137.8 L367.6 137.65 L367.85 137.51 L368.1 137.37 L368.35 137.23 L368.6 137.1 L368.85 136.97 L369.1 136.85 L369.35 136.74 L369.6 136.63 L369.85 136.53 L370.1 136.45 L370.35 136.37 L370.6 136.3 L370.85 136.24 L371.1 136.18 L371.35 136.12 L371.6 136.05 L371.85 135.99 L372.1 135.93 L372.35 135.88 L372.6 135.82 L372.85 135.76 L373.1 135.7 L373.35 135.65 L373.6 135.6 L373.85 135.55 L374.1 135.5 L374.35 135.45 L374.6 135.41 L374.85 135.36 L375.1 135.32 L375.35 135.29 L375.6 135.25 L375.85 135.22 L376.1 135.19 L376.35 135.17 L376.6 135.15 L376.85 135.13 L377.1 135.12 L377.35 135.11 L377.6 135.1 L377.85 135.1 L378.1 135.1 L378.35 135.11 L378.6 135.13 L378.85 135.15 L379.1 135.17 L379.35 135.2 L379.6 135.24 L379.85 135.27 L380.1 135.32 L380.35 135.36 L380.6 135.41 L380.85 135.47 L381.1 135.52 L381.35 135.58 L381.6 135.64 L381.85 135.71 L382.1 135.77 L382.35 135.84 L382.6 135.91 L382.85 135.98 L383.1 136.06 L383.35 136.13 L383.6 136.21 L383.85 136.28 L384.1 136.37 L384.35 136.47 L384.6 136.58 L384.85 136.71 L385.1 136.85 L385.35 137 L385.6 137.17 L385.85 137.34 L386.1 137.52 L386.35 137.71 L386.6 137.91 L386.85 138.11 L387.1 138.32 L387.35 138.53 L387.6 138.73 L387.85 138.94 L388.1 139.15 L388.35 139.36 L388.6 139.57 L388.85 139.77 L389.1 139.96 L389.35 140.15 L389.6 140.33 L389.85 140.5 L390.1 140.66 L390.35 140.83 L390.6 140.99 L390.85 141.15 L391.1 141.31 L391.35 141.47 L391.6 141.63 L391.85 141.78 L392.1 141.94 L392.35 142.08 L392.6 142.23 L392.85 142.37 L393.1 142.5 L393.35 142.63 L393.6 142.75 L393.85 142.87 L394.1 142.98 L394.35 143.09 L394.6 143.2 L394.85 143.31 L395.1 143.41 L395.35 143.51 L395.6 143.61 L395.85 143.71 L396.1 143.8 L396.35 143.89 L396.6 143.97 L396.85 144.05 L397.1 144.13 L397.35 144.21 L397.6 144.28 L397.85 144.36 L398.1 144.43 L398.35 144.5 L398.6 144.56 L398.85 144.63 L399.1 144.69 L399.35 144.75 L399.6 144.81 L399.85 144.87 L400.1 144.92 L400.35 144.97 L400.6 145.02 L400.85 145.07 L401.1 145.11 L401.35 145.15 L401.6 145.2 L401.85 145.24 L402.1 145.28 L402.35 145.32 L402.6 145.36 L402.85 145.4 L403.1 145.44 L403.35 145.47 L403.6 145.51 L403.85 145.54 L404.1 145.58 L404.35 145.61 L404.6 145.65 L404.85 145.68 L405.1 145.71 L405.35 145.74 L405.6 145.77 L405.85 145.8 L406.1 145.83 L406.35 145.86 L406.6 145.89 L406.85 145.92 L407.1 145.95 L407.35 145.98 L407.6 146.01 L407.85 146.04 L408.1 146.07 L408.35 146.1 L408.6 146.13 L408.85 146.15 L409.1 146.18 L409.35 146.21 L409.6 146.24 L409.85 146.26 L410.1 146.29 L410.35 146.32 L410.6 146.34 L410.85 146.37 L411.1 146.39 L411.35 146.42 L411.6 146.45 L411.85 146.47 L412.1 146.49 L412.35 146.52 L412.6 146.54 L412.85 146.57 L413.1 146.59 L413.35 146.62 L413.6 146.64 L413.85 146.66 L414.1 146.68 L414.35 146.71 L414.6 146.73 L414.85 146.75 L415.1 146.77 L415.35 146.79 L415.6 146.81 L415.85 146.83 L416.1 146.86 L416.35 146.88 L416.6 146.9 L416.85 146.91 L417.1 146.93 L417.35 146.95 L417.6 146.97 L417.85 146.99 L418.1 147.01 L418.35 147.02 L418.6 147.04 L418.85 147.06 L419.1 147.08 L419.35 147.09 L419.6 147.11 L419.85 147.12 L420.1 147.14 L420.35 147.15 L420.6 147.17 L420.85 147.18 L421.1 147.2 L421.35 147.21 L421.6 147.23 L421.85 147.24 L422.1 147.25 L422.35 147.27 L422.6 147.28 L422.85 147.29 L423.1 147.31 L423.35 147.32 L423.6 147.33 L423.85 147.35 L424.1 147.36 L424.35 147.37 L424.6 147.39 L424.85 147.4 L425.1 147.41 L425.35 147.43 L425.6 147.44 L425.85 147.45 L426.1 147.47 L426.35 147.48 L426.6 147.49 L426.85 147.51 L427.1 147.52 L427.35 147.53 L427.6 147.55 L427.85 147.56 L428.1 147.58 L428.35 147.59 L428.6 147.61 L428.85 147.62 L429.1 147.64 L429.35 147.65 L429.6 147.67 L429.85 147.68 L430.1 147.7 L430.35 147.71 L430.6 147.73 L430.85 147.74 L431.1 147.76 L431.35 147.77 L431.6 147.79 L431.85 147.8 L432.1 147.82 L432.35 147.83 L432.6 147.85 L432.85 147.87 L433.1 147.88 L433.35 147.9 L433.6 147.91 L433.85 147.93 L434.1 147.94 L434.35 147.96 L434.6 147.97" fill="none" stroke="#000" stroke-width="1.1" stroke-linejoin="round"/>
<rect x="245.5" y="15" width="189.9" height="155.2" fill="none" stroke="#000" stroke-width="1.4"/>
<text x="248.2" y="29.5" font-size="12" text-anchor="start" fill="#000" >ee=84.0%</text>
<path d="M362.2 27.75 H397.8" stroke="#000" stroke-width="1.4"/>
<text x="401.6" y="33.3" font-size="15.4" text-anchor="start" fill="#000" >24 h</text>
<text x="288.1" y="74.3" font-size="11.2" fill="#000">A<tspan font-size="7.6" dy="3">R</tspan><tspan dy="-3">=92.0%</tspan></text>
<text x="355.1" y="130.7" font-size="11.2" fill="#000">A<tspan font-size="7.6" dy="3">S</tspan><tspan dy="-3">=8.0%</tspan></text>
<text x="221.5" y="13.4" font-size="23.6" text-anchor="start" fill="#000" >c</text>
<text x="277.48" y="389.8" font-size="12.4" text-anchor="middle" fill="#000" >5.5</text>
<text x="340.65" y="389.8" font-size="12.4" text-anchor="middle" fill="#000" >6.0</text>
<text x="403.82" y="389.8" font-size="12.4" text-anchor="middle" fill="#000" >6.5</text>
<path d="M245.9 374.2 V376.1 M277.48 374.2 V377.4 M309.07 374.2 V376.1 M340.65 374.2 V377.4 M372.23 374.2 V376.1 M403.82 374.2 V377.4 M435.4 374.2 V376.1" stroke="#000" stroke-width="1.4" fill="none"/>
<text x="340.65" y="413" font-size="15.6" text-anchor="middle" fill="#000" >Time (min)</text>
<text transform="translate(236.8 295.1) rotate(-90)" font-size="15.6" text-anchor="middle" fill="#000">Intensity (mAU)</text>
<path d="M291.75 358.61 L292 358.41 L292.25 358.19 L292.5 357.95 L292.75 357.69 L293 357.42 L293.25 357.13 L293.5 356.83 L293.75 356.53 L294 356.22 L294.25 355.91 L294.5 355.57 L294.75 355.21 L295 354.82 L295.25 354.41 L295.5 353.97 L295.75 353.5 L296 353 L296.25 352.46 L296.5 351.87 L296.75 351.23 L297 350.54 L297.25 349.82 L297.5 349.07 L297.75 348.29 L298 347.49 L298.25 346.67 L298.5 345.82 L298.75 344.95 L299 344.03 L299.25 343.08 L299.5 342.09 L299.75 341.07 L300 340.01 L300.25 338.92 L300.5 337.79 L300.75 336.64 L301 335.43 L301.25 334.17 L301.5 332.85 L301.75 331.48 L302 330.06 L302.25 328.59 L302.5 327.08 L302.75 325.54 L303 323.96 L303.25 322.28 L303.5 320.52 L303.75 318.69 L304 316.82 L304.25 314.95 L304.5 313.08 L304.75 311.26 L305 309.5 L305.25 307.8 L305.5 306.15 L305.75 304.51 L306 302.89 L306.25 301.25 L306.5 299.61 L306.75 297.92 L307 296.16 L307.25 294.38 L307.5 292.62 L307.75 290.94 L308 289.39 L308.25 287.91 L308.5 286.49 L308.75 285.11 L309 283.79 L309.25 282.52 L309.5 281.3 L309.75 280.14 L310 279.03 L310.25 277.98 L310.5 277 L310.75 276.04 L311 275.1 L311.25 274.2 L311.5 273.41 L311.75 272.76 L312 272.23 L312.25 271.71 L312.5 271.21 L312.75 270.72 L313 270.26 L313.25 269.82 L313.5 269.43 L313.75 269.09 L314 268.8 L314.25 268.57 L314.5 268.4 L314.75 268.32 L315 268.31 L315.25 268.41 L315.5 268.6 L315.75 268.88 L316 269.24 L316.25 269.66 L316.5 270.12 L316.75 270.62 L317 271.15 L317.25 271.69 L317.5 272.23 L317.75 272.76 L318 273.34 L318.25 274.01 L318.5 274.74 L318.75 275.52 L319 276.33 L319.25 277.17 L319.5 278.07 L319.75 279.04 L320 280.05 L320.25 281.09 L320.5 282.15 L320.75 283.25 L321 284.38 L321.25 285.53 L321.5 286.7 L321.75 287.88 L322 289.06 L322.25 290.23 L322.5 291.42 L322.75 292.63 L323 293.84 L323.25 295.06 L323.5 296.26 L323.75 297.44 L324 298.6 L324.25 299.73 L324.5 300.83 L324.75 301.92 L325 303 L325.25 304.06 L325.5 305.12 L325.75 306.18 L326 307.24 L326.25 308.29 L326.5 309.32 L326.75 310.35 L327 311.36 L327.25 312.34 L327.5 313.3 L327.75 314.24 L328 315.17 L328.25 316.09 L328.5 316.99 L328.75 317.89 L329 318.76 L329.25 319.63 L329.5 320.48 L329.75 321.31 L330 322.13 L330.25 322.93 L330.5 323.71 L330.75 324.5 L331 325.29 L331.25 326.08 L331.5 326.86 L331.75 327.64 L332 328.4 L332.25 329.14 L332.5 329.86 L332.75 330.56 L333 331.22 L333.25 331.85 L333.5 332.45 L333.75 333 L334 333.5 L334.25 333.97 L334.5 334.43 L334.75 334.88 L335 335.32 L335.25 335.75 L335.5 336.16 L335.75 336.56 L336 336.95 L336.25 337.33 L336.5 337.69 L336.75 338.05 L337 338.39 L337.25 338.71 L337.5 339.02 L337.75 339.32 L338 339.61 L338.25 339.88 L338.5 340.14 L338.75 340.38 L339 340.61 L339.25 340.83 L339.5 341.04 L339.75 341.24 L340 341.44 L340.25 341.64 L340.5 341.82 L340.75 342 L341 342.18 L341.25 342.35 L341.5 342.51 L341.75 342.67 L342 342.83 L342.25 342.98 L342.5 343.13 L342.75 343.27 L343 343.4 L343.25 343.53 L343.5 343.66 L343.75 343.78 L344 343.9 L344.25 344.02 L344.5 344.13 L344.75 344.24 L345 344.34 L345.25 344.44 L345.5 344.55 L345.75 344.65 L346 344.75 L346.25 344.84 L346.5 344.94 L346.75 345.04 L347 345.13 L347.25 345.22 L347.5 345.31 L347.75 345.4 L348 345.48 L348.25 345.57 L348.5 345.65 L348.75 345.73 L349 345.8 L349.25 345.88 L349.5 345.95 L349.75 346.02 L350 346.08 L350.25 346.14 L350.5 346.2 L350.75 346.26 L351 346.31 L351.25 346.36 Z" fill="#EDBB7F" stroke="none"/>
<path d="M362 346.47 L362.25 346.4 L362.5 346.32 L362.75 346.23 L363 346.14 L363.25 346.03 L363.5 345.91 L363.75 345.79 L364 345.67 L364.25 345.54 L364.5 345.4 L364.75 345.26 L365 345.12 L365.25 344.98 L365.5 344.84 L365.75 344.7 L366 344.56 L366.25 344.43 L366.5 344.29 L366.75 344.14 L367 343.98 L367.25 343.81 L367.5 343.63 L367.75 343.45 L368 343.25 L368.25 343.06 L368.5 342.86 L368.75 342.65 L369 342.45 L369.25 342.24 L369.5 342.04 L369.75 341.84 L370 341.64 L370.25 341.44 L370.5 341.25 L370.75 341.06 L371 340.89 L371.25 340.72 L371.5 340.56 L371.75 340.41 L372 340.27 L372.25 340.15 L372.5 340.04 L372.75 339.94 L373 339.85 L373.25 339.75 L373.5 339.66 L373.75 339.56 L374 339.47 L374.25 339.38 L374.5 339.28 L374.75 339.19 L375 339.11 L375.25 339.02 L375.5 338.94 L375.75 338.86 L376 338.78 L376.25 338.71 L376.5 338.64 L376.75 338.58 L377 338.52 L377.25 338.46 L377.5 338.41 L377.75 338.36 L378 338.32 L378.25 338.28 L378.5 338.26 L378.75 338.23 L379 338.21 L379.25 338.2 L379.5 338.2 L379.75 338.21 L380 338.22 L380.25 338.25 L380.5 338.28 L380.75 338.32 L381 338.38 L381.25 338.44 L381.5 338.5 L381.75 338.58 L382 338.66 L382.25 338.74 L382.5 338.84 L382.75 338.94 L383 339.04 L383.25 339.15 L383.5 339.26 L383.75 339.37 L384 339.49 L384.25 339.61 L384.5 339.74 L384.75 339.86 L385 339.99 L385.25 340.12 L385.5 340.24 L385.75 340.37 L386 340.5 L386.25 340.62 L386.5 340.75 L386.75 340.89 L387 341.04 L387.25 341.2 L387.5 341.37 L387.75 341.55 L388 341.74 L388.25 341.94 L388.5 342.15 L388.75 342.36 L389 342.57 L389.25 342.79 L389.5 343.01 L389.75 343.24 L390 343.46 L390.25 343.69 L390.5 343.91 L390.75 344.13 L391 344.35 L391.25 344.57 L391.5 344.78 L391.75 344.99 L392 345.19 L392.25 345.38 L392.5 345.56 L392.75 345.73 L393 345.9 L393.25 346.08 L393.5 346.25 L393.75 346.42 L394 346.59 L394.25 346.76 L394.5 346.93 L394.75 347.09 L395 347.26 L395.25 347.42 L395.5 347.58 L395.75 347.74 L396 347.9 L396.25 348.05 L396.5 348.2 L396.75 348.34 L397 348.49 L397.25 348.62 L397.5 348.75 L397.75 348.88 L398 349.01 L398.25 349.12 Z" fill="#C5CBFB" stroke="none"/>
<path d="M246.5 363.5 L246.75 363.5 L247 363.5 L247.25 363.5 L247.5 363.5 L247.75 363.5 L248 363.5 L248.25 363.5 L248.5 363.5 L248.75 363.5 L249 363.5 L249.25 363.5 L249.5 363.5 L249.75 363.5 L250 363.5 L250.25 363.5 L250.5 363.5 L250.75 363.5 L251 363.5 L251.25 363.5 L251.5 363.5 L251.75 363.5 L252 363.5 L252.25 363.51 L252.5 363.51 L252.75 363.52 L253 363.53 L253.25 363.54 L253.5 363.55 L253.75 363.56 L254 363.57 L254.25 363.58 L254.5 363.6 L254.75 363.61 L255 363.63 L255.25 363.64 L255.5 363.66 L255.75 363.67 L256 363.69 L256.25 363.7 L256.5 363.71 L256.75 363.73 L257 363.74 L257.25 363.75 L257.5 363.76 L257.75 363.77 L258 363.78 L258.25 363.79 L258.5 363.79 L258.75 363.8 L259 363.8 L259.25 363.8 L259.5 363.8 L259.75 363.8 L260 363.8 L260.25 363.8 L260.5 363.8 L260.75 363.8 L261 363.8 L261.25 363.8 L261.5 363.8 L261.75 363.8 L262 363.8 L262.25 363.8 L262.5 363.8 L262.75 363.8 L263 363.8 L263.25 363.8 L263.5 363.8 L263.75 363.8 L264 363.8 L264.25 363.8 L264.5 363.8 L264.75 363.8 L265 363.8 L265.25 363.8 L265.5 363.8 L265.75 363.79 L266 363.78 L266.25 363.76 L266.5 363.74 L266.75 363.72 L267 363.69 L267.25 363.66 L267.5 363.63 L267.75 363.59 L268 363.56 L268.25 363.52 L268.5 363.47 L268.75 363.43 L269 363.39 L269.25 363.34 L269.5 363.3 L269.75 363.25 L270 363.21 L270.25 363.16 L270.5 363.12 L270.75 363.07 L271 363.03 L271.25 362.98 L271.5 362.92 L271.75 362.86 L272 362.81 L272.25 362.74 L272.5 362.68 L272.75 362.61 L273 362.55 L273.25 362.48 L273.5 362.41 L273.75 362.35 L274 362.28 L274.25 362.21 L274.5 362.14 L274.75 362.08 L275 362.01 L275.25 361.95 L275.5 361.89 L275.75 361.83 L276 361.78 L276.25 361.72 L276.5 361.67 L276.75 361.61 L277 361.56 L277.25 361.5 L277.5 361.45 L277.75 361.4 L278 361.34 L278.25 361.29 L278.5 361.24 L278.75 361.19 L279 361.13 L279.25 361.08 L279.5 361.03 L279.75 360.99 L280 360.94 L280.25 360.89 L280.5 360.85 L280.75 360.8 L281 360.76 L281.25 360.72 L281.5 360.68 L281.75 360.64 L282 360.6 L282.25 360.56 L282.5 360.53 L282.75 360.5 L283 360.47 L283.25 360.44 L283.5 360.42 L283.75 360.39 L284 360.37 L284.25 360.34 L284.5 360.32 L284.75 360.29 L285 360.27 L285.25 360.25 L285.5 360.22 L285.75 360.2 L286 360.17 L286.25 360.14 L286.5 360.12 L286.75 360.08 L287 360.05 L287.25 360.02 L287.5 359.98 L287.75 359.94 L288 359.9 L288.25 359.85 L288.5 359.81 L288.75 359.75 L289 359.7 L289.25 359.64 L289.5 359.57 L289.75 359.5 L290 359.42 L290.25 359.34 L290.5 359.25 L290.75 359.15 L291 359.04 L291.25 358.93 L291.5 358.78 L291.75 358.61 L292 358.41 L292.25 358.19 L292.5 357.95 L292.75 357.69 L293 357.42 L293.25 357.13 L293.5 356.83 L293.75 356.53 L294 356.22 L294.25 355.91 L294.5 355.57 L294.75 355.21 L295 354.82 L295.25 354.41 L295.5 353.97 L295.75 353.5 L296 353 L296.25 352.46 L296.5 351.87 L296.75 351.23 L297 350.54 L297.25 349.82 L297.5 349.07 L297.75 348.29 L298 347.49 L298.25 346.67 L298.5 345.82 L298.75 344.95 L299 344.03 L299.25 343.08 L299.5 342.09 L299.75 341.07 L300 340.01 L300.25 338.92 L300.5 337.79 L300.75 336.64 L301 335.43 L301.25 334.17 L301.5 332.85 L301.75 331.48 L302 330.06 L302.25 328.59 L302.5 327.08 L302.75 325.54 L303 323.96 L303.25 322.28 L303.5 320.52 L303.75 318.69 L304 316.82 L304.25 314.95 L304.5 313.08 L304.75 311.26 L305 309.5 L305.25 307.8 L305.5 306.15 L305.75 304.51 L306 302.89 L306.25 301.25 L306.5 299.61 L306.75 297.92 L307 296.16 L307.25 294.38 L307.5 292.62 L307.75 290.94 L308 289.39 L308.25 287.91 L308.5 286.49 L308.75 285.11 L309 283.79 L309.25 282.52 L309.5 281.3 L309.75 280.14 L310 279.03 L310.25 277.98 L310.5 277 L310.75 276.04 L311 275.1 L311.25 274.2 L311.5 273.41 L311.75 272.76 L312 272.23 L312.25 271.71 L312.5 271.21 L312.75 270.72 L313 270.26 L313.25 269.82 L313.5 269.43 L313.75 269.09 L314 268.8 L314.25 268.57 L314.5 268.4 L314.75 268.32 L315 268.31 L315.25 268.41 L315.5 268.6 L315.75 268.88 L316 269.24 L316.25 269.66 L316.5 270.12 L316.75 270.62 L317 271.15 L317.25 271.69 L317.5 272.23 L317.75 272.76 L318 273.34 L318.25 274.01 L318.5 274.74 L318.75 275.52 L319 276.33 L319.25 277.17 L319.5 278.07 L319.75 279.04 L320 280.05 L320.25 281.09 L320.5 282.15 L320.75 283.25 L321 284.38 L321.25 285.53 L321.5 286.7 L321.75 287.88 L322 289.06 L322.25 290.23 L322.5 291.42 L322.75 292.63 L323 293.84 L323.25 295.06 L323.5 296.26 L323.75 297.44 L324 298.6 L324.25 299.73 L324.5 300.83 L324.75 301.92 L325 303 L325.25 304.06 L325.5 305.12 L325.75 306.18 L326 307.24 L326.25 308.29 L326.5 309.32 L326.75 310.35 L327 311.36 L327.25 312.34 L327.5 313.3 L327.75 314.24 L328 315.17 L328.25 316.09 L328.5 316.99 L328.75 317.89 L329 318.76 L329.25 319.63 L329.5 320.48 L329.75 321.31 L330 322.13 L330.25 322.93 L330.5 323.71 L330.75 324.5 L331 325.29 L331.25 326.08 L331.5 326.86 L331.75 327.64 L332 328.4 L332.25 329.14 L332.5 329.86 L332.75 330.56 L333 331.22 L333.25 331.85 L333.5 332.45 L333.75 333 L334 333.5 L334.25 333.97 L334.5 334.43 L334.75 334.88 L335 335.32 L335.25 335.75 L335.5 336.16 L335.75 336.56 L336 336.95 L336.25 337.33 L336.5 337.69 L336.75 338.05 L337 338.39 L337.25 338.71 L337.5 339.02 L337.75 339.32 L338 339.61 L338.25 339.88 L338.5 340.14 L338.75 340.38 L339 340.61 L339.25 340.83 L339.5 341.04 L339.75 341.24 L340 341.44 L340.25 341.64 L340.5 341.82 L340.75 342 L341 342.18 L341.25 342.35 L341.5 342.51 L341.75 342.67 L342 342.83 L342.25 342.98 L342.5 343.13 L342.75 343.27 L343 343.4 L343.25 343.53 L343.5 343.66 L343.75 343.78 L344 343.9 L344.25 344.02 L344.5 344.13 L344.75 344.24 L345 344.34 L345.25 344.44 L345.5 344.55 L345.75 344.65 L346 344.75 L346.25 344.84 L346.5 344.94 L346.75 345.04 L347 345.13 L347.25 345.22 L347.5 345.31 L347.75 345.4 L348 345.48 L348.25 345.57 L348.5 345.65 L348.75 345.73 L349 345.8 L349.25 345.88 L349.5 345.95 L349.75 346.02 L350 346.08 L350.25 346.14 L350.5 346.2 L350.75 346.26 L351 346.31 L351.25 346.36 L351.5 346.41 L351.75 346.45 L352 346.49 L352.25 346.52 L352.5 346.56 L352.75 346.59 L353 346.62 L353.25 346.66 L353.5 346.69 L353.75 346.72 L354 346.75 L354.25 346.78 L354.5 346.8 L354.75 346.83 L355 346.85 L355.25 346.86 L355.5 346.88 L355.75 346.89 L356 346.9 L356.25 346.9 L356.5 346.9 L356.75 346.9 L357 346.89 L357.25 346.89 L357.5 346.88 L357.75 346.87 L358 346.86 L358.25 346.85 L358.5 346.83 L358.75 346.82 L359 346.8 L359.25 346.79 L359.5 346.77 L359.75 346.75 L360 346.73 L360.25 346.7 L360.5 346.68 L360.75 346.66 L361 346.63 L361.25 346.61 L361.5 346.57 L361.75 346.53 L362 346.47 L362.25 346.4 L362.5 346.32 L362.75 346.23 L363 346.14 L363.25 346.03 L363.5 345.91 L363.75 345.79 L364 345.67 L364.25 345.54 L364.5 345.4 L364.75 345.26 L365 345.12 L365.25 344.98 L365.5 344.84 L365.75 344.7 L366 344.56 L366.25 344.43 L366.5 344.29 L366.75 344.14 L367 343.98 L367.25 343.81 L367.5 343.63 L367.75 343.45 L368 343.25 L368.25 343.06 L368.5 342.86 L368.75 342.65 L369 342.45 L369.25 342.24 L369.5 342.04 L369.75 341.84 L370 341.64 L370.25 341.44 L370.5 341.25 L370.75 341.06 L371 340.89 L371.25 340.72 L371.5 340.56 L371.75 340.41 L372 340.27 L372.25 340.15 L372.5 340.04 L372.75 339.94 L373 339.85 L373.25 339.75 L373.5 339.66 L373.75 339.56 L374 339.47 L374.25 339.38 L374.5 339.28 L374.75 339.19 L375 339.11 L375.25 339.02 L375.5 338.94 L375.75 338.86 L376 338.78 L376.25 338.71 L376.5 338.64 L376.75 338.58 L377 338.52 L377.25 338.46 L377.5 338.41 L377.75 338.36 L378 338.32 L378.25 338.28 L378.5 338.26 L378.75 338.23 L379 338.21 L379.25 338.2 L379.5 338.2 L379.75 338.21 L380 338.22 L380.25 338.25 L380.5 338.28 L380.75 338.32 L381 338.38 L381.25 338.44 L381.5 338.5 L381.75 338.58 L382 338.66 L382.25 338.74 L382.5 338.84 L382.75 338.94 L383 339.04 L383.25 339.15 L383.5 339.26 L383.75 339.37 L384 339.49 L384.25 339.61 L384.5 339.74 L384.75 339.86 L385 339.99 L385.25 340.12 L385.5 340.24 L385.75 340.37 L386 340.5 L386.25 340.62 L386.5 340.75 L386.75 340.89 L387 341.04 L387.25 341.2 L387.5 341.37 L387.75 341.55 L388 341.74 L388.25 341.94 L388.5 342.15 L388.75 342.36 L389 342.57 L389.25 342.79 L389.5 343.01 L389.75 343.24 L390 343.46 L390.25 343.69 L390.5 343.91 L390.75 344.13 L391 344.35 L391.25 344.57 L391.5 344.78 L391.75 344.99 L392 345.19 L392.25 345.38 L392.5 345.56 L392.75 345.73 L393 345.9 L393.25 346.08 L393.5 346.25 L393.75 346.42 L394 346.59 L394.25 346.76 L394.5 346.93 L394.75 347.09 L395 347.26 L395.25 347.42 L395.5 347.58 L395.75 347.74 L396 347.9 L396.25 348.05 L396.5 348.2 L396.75 348.34 L397 348.49 L397.25 348.62 L397.5 348.75 L397.75 348.88 L398 349.01 L398.25 349.12 L398.5 349.23 L398.75 349.34 L399 349.44 L399.25 349.54 L399.5 349.63 L399.75 349.73 L400 349.82 L400.25 349.91 L400.5 350 L400.75 350.09 L401 350.18 L401.25 350.27 L401.5 350.35 L401.75 350.43 L402 350.52 L402.25 350.59 L402.5 350.67 L402.75 350.75 L403 350.82 L403.25 350.89 L403.5 350.96 L403.75 351.03 L404 351.09 L404.25 351.15 L404.5 351.21 L404.75 351.27 L405 351.33 L405.25 351.38 L405.5 351.43 L405.75 351.47 L406 351.52 L406.25 351.56 L406.5 351.6 L406.75 351.64 L407 351.67 L407.25 351.71 L407.5 351.74 L407.75 351.78 L408 351.81 L408.25 351.84 L408.5 351.88 L408.75 351.91 L409 351.94 L409.25 351.97 L409.5 352 L409.75 352.03 L410 352.06 L410.25 352.08 L410.5 352.11 L410.75 352.14 L411 352.16 L411.25 352.19 L411.5 352.21 L411.75 352.24 L412 352.26 L412.25 352.29 L412.5 352.31 L412.75 352.33 L413 352.35 L413.25 352.37 L413.5 352.4 L413.75 352.42 L414 352.44 L414.25 352.46 L414.5 352.48 L414.75 352.5 L415 352.52 L415.25 352.54 L415.5 352.56 L415.75 352.57 L416 352.59 L416.25 352.61 L416.5 352.63 L416.75 352.65 L417 352.66 L417.25 352.68 L417.5 352.7 L417.75 352.72 L418 352.73 L418.25 352.75 L418.5 352.77 L418.75 352.78 L419 352.8 L419.25 352.82 L419.5 352.83 L419.75 352.85 L420 352.87 L420.25 352.88 L420.5 352.9 L420.75 352.91 L421 352.93 L421.25 352.95 L421.5 352.96 L421.75 352.98 L422 352.99 L422.25 353.01 L422.5 353.03 L422.75 353.04 L423 353.06 L423.25 353.07 L423.5 353.09 L423.75 353.1 L424 353.12 L424.25 353.13 L424.5 353.15 L424.75 353.16 L425 353.18 L425.25 353.19 L425.5 353.2 L425.75 353.22 L426 353.23 L426.25 353.24 L426.5 353.26 L426.75 353.27 L427 353.28 L427.25 353.3 L427.5 353.31 L427.75 353.32 L428 353.34 L428.25 353.35 L428.5 353.36 L428.75 353.37 L429 353.38 L429.25 353.4 L429.5 353.41 L429.75 353.42 L430 353.43 L430.25 353.44 L430.5 353.45 L430.75 353.46 L431 353.47 L431.25 353.48 L431.5 353.49 L431.75 353.5 L432 353.51 L432.25 353.52 L432.5 353.53 L432.75 353.53 L433 353.54 L433.25 353.55 L433.5 353.56 L433.75 353.57 L434 353.57 L434.25 353.58 L434.5 353.59 L434.75 353.59" fill="none" stroke="#000" stroke-width="1.1" stroke-linejoin="round"/>
<rect x="245.9" y="219" width="189.5" height="155.2" fill="none" stroke="#000" stroke-width="1.4"/>
<text x="248.2" y="233.3" font-size="12" text-anchor="start" fill="#000" >ee=81.0%</text>
<path d="M362.2 231.75 H397.8" stroke="#000" stroke-width="1.4"/>
<text x="402.3" y="237.3" font-size="15.4" text-anchor="start" fill="#000" >36 h</text>
<text x="289.4" y="264.7" font-size="11.2" fill="#000">A<tspan font-size="7.6" dy="3">R</tspan><tspan dy="-3">=90.5%</tspan></text>
<text x="354.4" y="332" font-size="11.2" fill="#000">A<tspan font-size="7.6" dy="3">S</tspan><tspan dy="-3">=9.5%</tspan></text>
<text x="221.8" y="217.7" font-size="23.6" text-anchor="start" fill="#000" >d</text>
<text x="481.5" y="158.98" font-size="12.4" text-anchor="end" fill="#000" >0.0</text>
<text x="481.5" y="112.42" font-size="12.4" text-anchor="end" fill="#000" >0.3</text>
<text x="481.5" y="65.86" font-size="12.4" text-anchor="end" fill="#000" >0.6</text>
<text x="481.5" y="19.3" font-size="12.4" text-anchor="end" fill="#000" >0.9</text>
<path d="M487.5 154.68 H484.2 M487.5 131.4 H485.7 M487.5 108.12 H484.2 M487.5 84.84 H485.7 M487.5 61.56 H484.2 M487.5 38.28 H485.7 M487.5 15 H484.2" stroke="#000" stroke-width="1.4" fill="none"/>
<text x="487.5" y="185.8" font-size="12.4" text-anchor="middle" fill="#000" >0</text>
<text x="525.46" y="185.8" font-size="12.4" text-anchor="middle" fill="#000" >8</text>
<text x="563.42" y="185.8" font-size="12.4" text-anchor="middle" fill="#000" >16</text>
<text x="601.38" y="185.8" font-size="12.4" text-anchor="middle" fill="#000" >24</text>
<text x="639.34" y="185.8" font-size="12.4" text-anchor="middle" fill="#000" >32</text>
<text x="677.3" y="185.8" font-size="12.4" text-anchor="middle" fill="#000" >40</text>
<path d="M487.5 170.2 V173.8 M506.48 170.2 V172.2 M525.46 170.2 V173.8 M544.44 170.2 V172.2 M563.42 170.2 V173.8 M582.4 170.2 V172.2 M601.38 170.2 V173.8 M620.36 170.2 V172.2 M639.34 170.2 V173.8 M658.32 170.2 V172.2 M677.3 170.2 V173.8" stroke="#000" stroke-width="1.4" fill="none"/>
<text x="582.4" y="207.8" font-size="15.6" text-anchor="middle" fill="#000" >Time (h)</text>
<text transform="translate(458.8 91.4) rotate(-90)" font-size="15.6" text-anchor="middle" fill="#000">Flux (10<tspan font-size="10.4" dy="-6">-3</tspan><tspan dy="6"> mol m</tspan><tspan font-size="10.4" dy="-6">-2</tspan><tspan dy="6"> h</tspan><tspan font-size="10.4" dy="-6">-1</tspan><tspan dy="6">)</tspan></text>
<path d="M506.48 75.84 L507.24 76.86 L508.01 77.87 L508.77 78.89 L509.53 79.91 L510.3 80.92 L511.06 81.93 L511.82 82.94 L512.58 83.95 L513.35 84.95 L514.11 85.95 L514.87 86.95 L515.64 87.94 L516.4 88.92 L517.16 89.9 L517.93 90.88 L518.69 91.85 L519.45 92.81 L520.21 93.76 L520.98 94.71 L521.74 95.65 L522.5 96.58 L523.27 97.5 L524.03 98.41 L524.79 99.31 L525.56 100.21 L526.32 101.09 L527.08 101.96 L527.84 102.82 L528.61 103.67 L529.37 104.5 L530.13 105.33 L530.9 106.14 L531.66 106.93 L532.42 107.72 L533.19 108.49 L533.95 109.24 L534.71 109.98 L535.47 110.7 L536.24 111.41 L537 112.1 L537.76 112.78 L538.53 113.43 L539.29 114.07 L540.05 114.69 L540.82 115.3 L541.58 115.88 L542.34 116.45 L543.1 116.99 L543.87 117.52 L544.63 118.02 L545.39 118.51 L546.16 118.97 L546.92 119.41 L547.68 119.84 L548.45 120.24 L549.21 120.63 L549.97 120.99 L550.73 121.34 L551.5 121.67 L552.26 121.98 L553.02 122.28 L553.79 122.55 L554.55 122.82 L555.31 123.06 L556.08 123.29 L556.84 123.5 L557.6 123.7 L558.37 123.88 L559.13 124.05 L559.89 124.21 L560.65 124.35 L561.42 124.47 L562.18 124.59 L562.94 124.69 L563.71 124.78 L564.47 124.85 L565.23 124.92 L566 124.97 L566.76 125.01 L567.52 125.04 L568.28 125.06 L569.05 125.07 L569.81 125.07 L570.57 125.06 L571.34 125.04 L572.1 125.02 L572.86 124.98 L573.63 124.94 L574.39 124.89 L575.15 124.83 L575.91 124.76 L576.68 124.69 L577.44 124.61 L578.2 124.53 L578.97 124.44 L579.73 124.34 L580.49 124.24 L581.26 124.13 L582.02 124.02 L582.78 123.91 L583.54 123.79 L584.31 123.67 L585.07 123.55 L585.83 123.42 L586.6 123.29 L587.36 123.16 L588.12 123.03 L588.89 122.9 L589.65 122.76 L590.41 122.63 L591.17 122.49 L591.94 122.36 L592.7 122.23 L593.46 122.09 L594.23 121.96 L594.99 121.83 L595.75 121.7 L596.52 121.58 L597.28 121.45 L598.04 121.33 L598.8 121.21 L599.57 121.1 L600.33 120.99 L601.09 120.88 L601.86 120.78 L602.62 120.69 L603.38 120.6 L604.15 120.51 L604.91 120.43 L605.67 120.35 L606.43 120.27 L607.2 120.2 L607.96 120.14 L608.72 120.08 L609.49 120.02 L610.25 119.97 L611.01 119.92 L611.78 119.88 L612.54 119.83 L613.3 119.8 L614.07 119.76 L614.83 119.73 L615.59 119.71 L616.35 119.69 L617.12 119.67 L617.88 119.65 L618.64 119.64 L619.41 119.63 L620.17 119.63 L620.93 119.62 L621.7 119.62 L622.46 119.63 L623.22 119.64 L623.98 119.65 L624.75 119.66 L625.51 119.67 L626.27 119.69 L627.04 119.71 L627.8 119.74 L628.56 119.76 L629.33 119.79 L630.09 119.82 L630.85 119.85 L631.61 119.89 L632.38 119.93 L633.14 119.97 L633.9 120.01 L634.67 120.05 L635.43 120.1 L636.19 120.15 L636.96 120.2 L637.72 120.25 L638.48 120.3 L639.24 120.36 L640.01 120.42 L640.77 120.47 L641.53 120.53 L642.3 120.59 L643.06 120.66 L643.82 120.72 L644.59 120.79 L645.35 120.85 L646.11 120.92 L646.87 120.99 L647.64 121.06 L648.4 121.13 L649.16 121.2 L649.93 121.27 L650.69 121.34 L651.45 121.41 L652.22 121.49 L652.98 121.56 L653.74 121.64 L654.5 121.71 L655.27 121.79 L656.03 121.86 L656.79 121.94 L657.56 122.01 L658.32 122.09" fill="none" stroke="#EFBD8A" stroke-width="1.6" stroke-dasharray="7.2 2.8 1.6 2.8" stroke-dashoffset="1.1"/>
<path d="M506.48 155.15 L507.24 155.12 L508.01 155.1 L508.77 155.08 L509.53 155.05 L510.3 155.03 L511.06 155.01 L511.82 154.98 L512.58 154.96 L513.35 154.94 L514.11 154.91 L514.87 154.89 L515.64 154.87 L516.4 154.84 L517.16 154.82 L517.93 154.8 L518.69 154.77 L519.45 154.75 L520.21 154.73 L520.98 154.7 L521.74 154.68 L522.5 154.65 L523.27 154.63 L524.03 154.61 L524.79 154.58 L525.56 154.56 L526.32 154.53 L527.08 154.51 L527.84 154.48 L528.61 154.46 L529.37 154.43 L530.13 154.41 L530.9 154.38 L531.66 154.36 L532.42 154.33 L533.19 154.31 L533.95 154.28 L534.71 154.25 L535.47 154.23 L536.24 154.2 L537 154.17 L537.76 154.15 L538.53 154.12 L539.29 154.09 L540.05 154.07 L540.82 154.04 L541.58 154.01 L542.34 153.98 L543.1 153.95 L543.87 153.93 L544.63 153.9 L545.39 153.87 L546.16 153.84 L546.92 153.81 L547.68 153.78 L548.45 153.75 L549.21 153.72 L549.97 153.69 L550.73 153.66 L551.5 153.63 L552.26 153.6 L553.02 153.57 L553.79 153.54 L554.55 153.51 L555.31 153.48 L556.08 153.44 L556.84 153.41 L557.6 153.38 L558.37 153.35 L559.13 153.32 L559.89 153.29 L560.65 153.26 L561.42 153.23 L562.18 153.2 L562.94 153.16 L563.71 153.13 L564.47 153.1 L565.23 153.07 L566 153.04 L566.76 153.01 L567.52 152.98 L568.28 152.95 L569.05 152.92 L569.81 152.89 L570.57 152.86 L571.34 152.83 L572.1 152.8 L572.86 152.77 L573.63 152.74 L574.39 152.71 L575.15 152.68 L575.91 152.65 L576.68 152.62 L577.44 152.59 L578.2 152.57 L578.97 152.54 L579.73 152.51 L580.49 152.48 L581.26 152.46 L582.02 152.43 L582.78 152.4 L583.54 152.38 L584.31 152.35 L585.07 152.33 L585.83 152.3 L586.6 152.28 L587.36 152.25 L588.12 152.23 L588.89 152.2 L589.65 152.18 L590.41 152.16 L591.17 152.14 L591.94 152.11 L592.7 152.09 L593.46 152.07 L594.23 152.05 L594.99 152.03 L595.75 152.01 L596.52 151.99 L597.28 151.98 L598.04 151.96 L598.8 151.94 L599.57 151.92 L600.33 151.91 L601.09 151.89 L601.86 151.88 L602.62 151.86 L603.38 151.85 L604.15 151.84 L604.91 151.82 L605.67 151.81 L606.43 151.8 L607.2 151.79 L607.96 151.78 L608.72 151.77 L609.49 151.76 L610.25 151.75 L611.01 151.74 L611.78 151.74 L612.54 151.73 L613.3 151.72 L614.07 151.71 L614.83 151.71 L615.59 151.7 L616.35 151.7 L617.12 151.69 L617.88 151.69 L618.64 151.69 L619.41 151.68 L620.17 151.68 L620.93 151.68 L621.7 151.68 L622.46 151.67 L623.22 151.67 L623.98 151.67 L624.75 151.67 L625.51 151.67 L626.27 151.67 L627.04 151.67 L627.8 151.67 L628.56 151.67 L629.33 151.68 L630.09 151.68 L630.85 151.68 L631.61 151.68 L632.38 151.68 L633.14 151.69 L633.9 151.69 L634.67 151.69 L635.43 151.7 L636.19 151.7 L636.96 151.71 L637.72 151.71 L638.48 151.72 L639.24 151.72 L640.01 151.73 L640.77 151.73 L641.53 151.74 L642.3 151.74 L643.06 151.75 L643.82 151.75 L644.59 151.76 L645.35 151.77 L646.11 151.77 L646.87 151.78 L647.64 151.79 L648.4 151.79 L649.16 151.8 L649.93 151.81 L650.69 151.81 L651.45 151.82 L652.22 151.83 L652.98 151.83 L653.74 151.84 L654.5 151.85 L655.27 151.86 L656.03 151.86 L656.79 151.87 L657.56 151.88 L658.32 151.89" fill="none" stroke="#ADB7F9" stroke-width="1.6" stroke-dasharray="7.2 2.8 1.6 2.8" stroke-dashoffset="1.1"/>
<path d="M506.48 68.84 L508.36 73.25 L513.14 73.68 L509.52 76.83 L510.59 81.5 L506.48 79.04 L502.37 81.5 L503.44 76.83 L499.82 73.68 L504.6 73.25 Z" fill="#EFBD8A"/>
<path d="M544.44 110.9 L546.32 115.31 L551.1 115.73 L547.48 118.89 L548.55 123.56 L544.44 121.1 L540.33 123.56 L541.4 118.89 L537.78 115.73 L542.56 115.31 Z" fill="#EFBD8A"/>
<path d="M601.38 113.85 L603.26 118.26 L608.04 118.68 L604.42 121.84 L605.49 126.51 L601.38 124.05 L597.27 126.51 L598.34 121.84 L594.72 118.68 L599.5 118.26 Z" fill="#EFBD8A"/>
<path d="M658.32 115.09 L660.2 119.5 L664.98 119.92 L661.36 123.08 L662.43 127.75 L658.32 125.29 L654.21 127.75 L655.28 123.08 L651.66 119.92 L656.44 119.5 Z" fill="#EFBD8A"/>
<path d="M506.48 149.05 L508.24 152.72 L512.28 153.26 L509.33 156.07 L510.07 160.08 L506.48 158.15 L502.89 160.08 L503.63 156.07 L500.68 153.26 L504.72 152.72 Z" fill="#fff" stroke="#ADB7F9" stroke-width="2.0" stroke-linejoin="round"/>
<path d="M544.44 147.8 L546.2 151.48 L550.24 152.02 L547.29 154.83 L548.03 158.84 L544.44 156.9 L540.85 158.84 L541.59 154.83 L538.64 152.02 L542.68 151.48 Z" fill="#fff" stroke="#ADB7F9" stroke-width="2.0" stroke-linejoin="round"/>
<path d="M601.38 145.79 L603.14 149.46 L607.18 150 L604.23 152.81 L604.97 156.82 L601.38 154.89 L597.79 156.82 L598.53 152.81 L595.58 150 L599.62 149.46 Z" fill="#fff" stroke="#ADB7F9" stroke-width="2.0" stroke-linejoin="round"/>
<path d="M658.32 145.79 L660.08 149.46 L664.12 150 L661.17 152.81 L661.91 156.82 L658.32 154.89 L654.73 156.82 L655.47 152.81 L652.52 150 L656.56 149.46 Z" fill="#fff" stroke="#ADB7F9" stroke-width="2.0" stroke-linejoin="round"/>
<path d="M598.6 26.3 H632" stroke="#EFBD8A" stroke-width="1.6" stroke-dasharray="7.2 2.8 1.6 2.8" stroke-dashoffset="0.7"/>
<path d="M615.4 19.6 L617.28 24.01 L622.06 24.44 L618.44 27.59 L619.51 32.26 L615.4 29.8 L611.29 32.26 L612.36 27.59 L608.74 24.44 L613.52 24.01 Z" fill="#EFBD8A"/>
<text x="635.2" y="30.5" font-size="12.1" text-anchor="start" fill="#000" >R-PPA</text>
<path d="M598.6 40.8 H632" stroke="#ADB7F9" stroke-width="1.6" stroke-dasharray="7.2 2.8 1.6 2.8" stroke-dashoffset="0.7"/>
<path d="M615.4 35 L617.16 38.67 L621.2 39.21 L618.25 42.03 L618.99 46.04 L615.4 44.1 L611.81 46.04 L612.55 42.03 L609.6 39.21 L613.64 38.67 Z" fill="#fff" stroke="#ADB7F9" stroke-width="2.0" stroke-linejoin="round"/>
<text x="635.2" y="45" font-size="12.1" text-anchor="start" fill="#000" >S-PPA</text>
<rect x="487.5" y="15" width="189.8" height="155.2" fill="none" stroke="#000" stroke-width="1.4"/>
<text x="442.2" y="13.5" font-size="23.6" text-anchor="start" fill="#000" >e</text>
<defs><linearGradient id="bg" x1="0" x2="1" y1="0" y2="0"><stop offset="0" stop-color="#8A90D9"/><stop offset="0.4" stop-color="#C4CBFA"/><stop offset="0.6" stop-color="#C4CBFA"/><stop offset="1" stop-color="#888ED8"/></linearGradient></defs>
<rect x="497.27" y="233.11" width="20.0" height="141.09" fill="url(#bg)"/>
<rect x="535.21" y="247.78" width="20.0" height="126.42" fill="url(#bg)"/>
<rect x="592.12" y="255.68" width="20.0" height="118.52" fill="url(#bg)"/>
<rect x="649.03" y="259.92" width="20.0" height="114.28" fill="url(#bg)"/>
<path d="M488.3 261.33 H678" stroke="#D82626" stroke-width="1.6" stroke-dasharray="3.5 2.64"/>
<text x="649.7" y="253.8" font-size="10.8" text-anchor="start" fill="#D43A3A" textLength="20.0" lengthAdjust="spacingAndGlyphs">80%</text>
<text x="482.1" y="378.5" font-size="12.4" text-anchor="end" fill="#000" >0</text>
<text x="482.1" y="350.28" font-size="12.4" text-anchor="end" fill="#000" >20</text>
<text x="482.1" y="322.06" font-size="12.4" text-anchor="end" fill="#000" >40</text>
<text x="482.1" y="293.85" font-size="12.4" text-anchor="end" fill="#000" >60</text>
<text x="482.1" y="265.63" font-size="12.4" text-anchor="end" fill="#000" >80</text>
<text x="482.1" y="237.41" font-size="12.4" text-anchor="end" fill="#000" >100</text>
<path d="M488.3 374.2 H484.9 M488.3 360.09 H486.5 M488.3 345.98 H484.9 M488.3 331.87 H486.5 M488.3 317.76 H484.9 M488.3 303.65 H486.5 M488.3 289.55 H484.9 M488.3 275.44 H486.5 M488.3 261.33 H484.9 M488.3 247.22 H486.5 M488.3 233.11 H484.9 M488.3 219 H486.5" stroke="#000" stroke-width="1.4" fill="none"/>
<text x="488.3" y="389.8" font-size="12.4" text-anchor="middle" fill="#000" >0</text>
<text x="526.24" y="389.8" font-size="12.4" text-anchor="middle" fill="#000" >8</text>
<text x="564.18" y="389.8" font-size="12.4" text-anchor="middle" fill="#000" >16</text>
<text x="602.12" y="389.8" font-size="12.4" text-anchor="middle" fill="#000" >24</text>
<text x="640.06" y="389.8" font-size="12.4" text-anchor="middle" fill="#000" >32</text>
<text x="678" y="389.8" font-size="12.4" text-anchor="middle" fill="#000" >40</text>
<path d="M488.3 374.2 V377.8 M507.27 374.2 V376.2 M526.24 374.2 V377.8 M545.21 374.2 V376.2 M564.18 374.2 V377.8 M583.15 374.2 V376.2 M602.12 374.2 V377.8 M621.09 374.2 V376.2 M640.06 374.2 V377.8 M659.03 374.2 V376.2 M678 374.2 V377.8" stroke="#000" stroke-width="1.4" fill="none"/>
<text x="583.15" y="411.8" font-size="15.6" text-anchor="middle" fill="#000" >Time (h)</text>
<text transform="translate(458.4 296.6) rotate(-90)" font-size="15.6" text-anchor="middle" fill="#000">ee (%)</text>
<rect x="488.3" y="219" width="189.7" height="155.2" fill="none" stroke="#000" stroke-width="1.4"/>
<text x="443.5" y="217.7" font-size="23.6" text-anchor="start" fill="#000" >f</text>
</svg>
</body></html>
